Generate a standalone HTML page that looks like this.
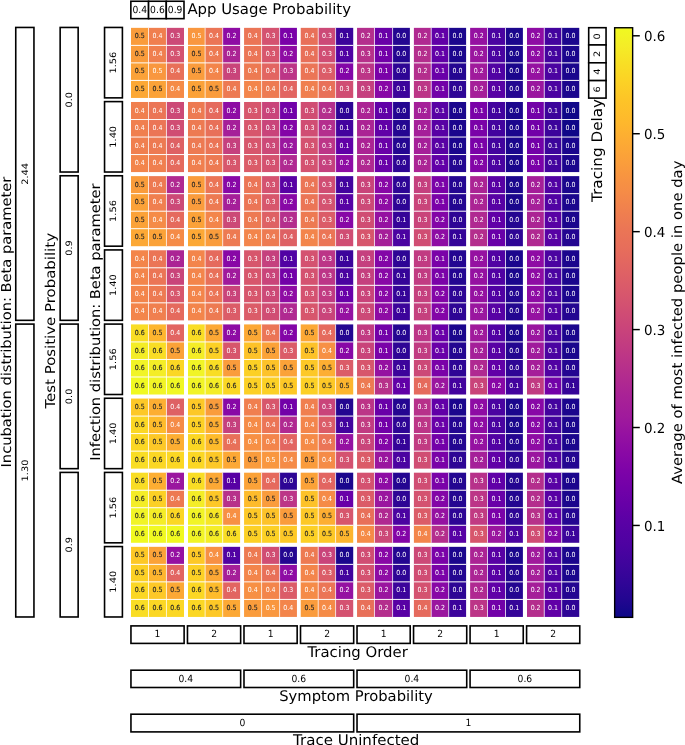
<!DOCTYPE html>
<html lang="en">
<head>
<meta charset="utf-8">
<title>Heatmap: average of most infected people in one day</title>
<style>
html,body{margin:0;padding:0;background:#fff;}
body{width:685px;height:745px;overflow:hidden;font-family:"DejaVu Sans","Liberation Sans",sans-serif;}
svg{display:block;}
svg text{font-family:"DejaVu Sans","Liberation Sans",sans-serif;fill:#000;text-rendering:geometricPrecision;}
.a{font-size:6.94px;text-anchor:middle;fill:#fff;}
.a.k{fill:#262626;stroke:#262626;stroke-width:0.15px;}
.s{font-size:9.9px;text-anchor:middle;}
.vs{font-size:9.8px;text-anchor:middle;}
.b{font-size:14.6px;text-anchor:middle;}
.vb{font-size:14.5px;text-anchor:middle;}
.t{font-size:13.89px;}
.bx{fill:#fff;stroke:#000;stroke-width:1.6;}
</style>
</head>
<body>
<svg width="685" height="745" viewBox="0 0 685 745">
<rect x="0" y="0" width="685" height="745" fill="#fff"/>
<g id="heatmap">
<g><rect x="131" y="27.85" width="17.5" height="17.52" fill="#fa9c3c"/><rect x="148.5" y="27.85" width="17.95" height="17.52" fill="#f07f4f"/><rect x="166.45" y="27.85" width="17.55" height="17.52" fill="#cc4977"/><rect x="188" y="27.85" width="17.1" height="17.52" fill="#f9973f"/><rect x="205.1" y="27.85" width="17.6" height="17.52" fill="#eb7556"/><rect x="222.7" y="27.85" width="17.4" height="17.52" fill="#8e0ca4"/><rect x="244.07" y="27.85" width="17.53" height="17.52" fill="#eb7556"/><rect x="261.6" y="27.85" width="18" height="17.52" fill="#d45270"/><rect x="279.6" y="27.85" width="17.33" height="17.52" fill="#7a02a8"/><rect x="300.74" y="27.85" width="17.46" height="17.52" fill="#e87059"/><rect x="318.2" y="27.85" width="17.4" height="17.52" fill="#cc4977"/><rect x="335.6" y="27.85" width="17.62" height="17.52" fill="#3c049b"/><rect x="357.05" y="27.85" width="17.42" height="17.52" fill="#b42e8d"/><rect x="374.47" y="27.85" width="18.13" height="17.52" fill="#6900a8"/><rect x="392.6" y="27.85" width="17.28" height="17.52" fill="#240691"/><rect x="413.9" y="27.85" width="17.3" height="17.52" fill="#b02991"/><rect x="431.2" y="27.85" width="17.5" height="17.52" fill="#6100a7"/><rect x="448.7" y="27.85" width="17.4" height="17.52" fill="#1b068d"/><rect x="470.13" y="27.85" width="17.37" height="17.52" fill="#9511a1"/><rect x="487.5" y="27.85" width="18" height="17.52" fill="#4b03a1"/><rect x="505.5" y="27.85" width="17.4" height="17.52" fill="#1b068d"/><rect x="527" y="27.85" width="17.25" height="17.52" fill="#8e0ca4"/><rect x="544.25" y="27.85" width="17.45" height="17.52" fill="#43039e"/><rect x="561.7" y="27.85" width="17.55" height="17.52" fill="#1b068d"/></g>
<g><rect x="131" y="45.38" width="17.5" height="17.52" fill="#fa9c3c"/><rect x="148.5" y="45.38" width="17.95" height="17.52" fill="#f07f4f"/><rect x="166.45" y="45.38" width="17.55" height="17.52" fill="#d45270"/><rect x="188" y="45.38" width="17.1" height="17.52" fill="#fa9c3c"/><rect x="205.1" y="45.38" width="17.6" height="17.52" fill="#ed7a52"/><rect x="222.7" y="45.38" width="17.4" height="17.52" fill="#ab2494"/><rect x="244.07" y="45.38" width="17.53" height="17.52" fill="#eb7556"/><rect x="261.6" y="45.38" width="18" height="17.52" fill="#d7566c"/><rect x="279.6" y="45.38" width="17.33" height="17.52" fill="#8e0ca4"/><rect x="300.74" y="45.38" width="17.46" height="17.52" fill="#e87059"/><rect x="318.2" y="45.38" width="17.4" height="17.52" fill="#d04d73"/><rect x="335.6" y="45.38" width="17.62" height="17.52" fill="#5102a3"/><rect x="357.05" y="45.38" width="17.42" height="17.52" fill="#b7318a"/><rect x="374.47" y="45.38" width="18.13" height="17.52" fill="#7201a8"/><rect x="392.6" y="45.38" width="17.28" height="17.52" fill="#240691"/><rect x="413.9" y="45.38" width="17.3" height="17.52" fill="#b42e8d"/><rect x="431.2" y="45.38" width="17.5" height="17.52" fill="#6100a7"/><rect x="448.7" y="45.38" width="17.4" height="17.52" fill="#1b068d"/><rect x="470.13" y="45.38" width="17.37" height="17.52" fill="#9a169f"/><rect x="487.5" y="45.38" width="18" height="17.52" fill="#4b03a1"/><rect x="505.5" y="45.38" width="17.4" height="17.52" fill="#1b068d"/><rect x="527" y="45.38" width="17.25" height="17.52" fill="#8e0ca4"/><rect x="544.25" y="45.38" width="17.45" height="17.52" fill="#43039e"/><rect x="561.7" y="45.38" width="17.55" height="17.52" fill="#1b068d"/></g>
<g><rect x="131" y="62.9" width="17.5" height="17.52" fill="#fba238"/><rect x="148.5" y="62.9" width="17.95" height="17.52" fill="#f9973f"/><rect x="166.45" y="62.9" width="17.55" height="17.52" fill="#e87059"/><rect x="188" y="62.9" width="17.1" height="17.52" fill="#fa9c3c"/><rect x="205.1" y="62.9" width="17.6" height="17.52" fill="#f3854b"/><rect x="222.7" y="62.9" width="17.4" height="17.52" fill="#c9447a"/><rect x="244.07" y="62.9" width="17.53" height="17.52" fill="#ed7a52"/><rect x="261.6" y="62.9" width="18" height="17.52" fill="#e26561"/><rect x="279.6" y="62.9" width="17.33" height="17.52" fill="#bc3587"/><rect x="300.74" y="62.9" width="17.46" height="17.52" fill="#eb7556"/><rect x="318.2" y="62.9" width="17.4" height="17.52" fill="#db5c68"/><rect x="335.6" y="62.9" width="17.62" height="17.52" fill="#8305a7"/><rect x="357.05" y="62.9" width="17.42" height="17.52" fill="#bc3587"/><rect x="374.47" y="62.9" width="18.13" height="17.52" fill="#7a02a8"/><rect x="392.6" y="62.9" width="17.28" height="17.52" fill="#2e0595"/><rect x="413.9" y="62.9" width="17.3" height="17.52" fill="#b42e8d"/><rect x="431.2" y="62.9" width="17.5" height="17.52" fill="#6900a8"/><rect x="448.7" y="62.9" width="17.4" height="17.52" fill="#240691"/><rect x="470.13" y="62.9" width="17.37" height="17.52" fill="#a01a9c"/><rect x="487.5" y="62.9" width="18" height="17.52" fill="#5102a3"/><rect x="505.5" y="62.9" width="17.4" height="17.52" fill="#1b068d"/><rect x="527" y="62.9" width="17.25" height="17.52" fill="#9511a1"/><rect x="544.25" y="62.9" width="17.45" height="17.52" fill="#4b03a1"/><rect x="561.7" y="62.9" width="17.55" height="17.52" fill="#1b068d"/></g>
<g><rect x="131" y="80.42" width="17.5" height="17.52" fill="#fca835"/><rect x="148.5" y="80.42" width="17.95" height="17.52" fill="#fba238"/><rect x="166.45" y="80.42" width="17.55" height="17.52" fill="#f58b47"/><rect x="188" y="80.42" width="17.1" height="17.52" fill="#fba238"/><rect x="205.1" y="80.42" width="17.6" height="17.52" fill="#fa9c3c"/><rect x="222.7" y="80.42" width="17.4" height="17.52" fill="#ed7a52"/><rect x="244.07" y="80.42" width="17.53" height="17.52" fill="#f3854b"/><rect x="261.6" y="80.42" width="18" height="17.52" fill="#ed7a52"/><rect x="279.6" y="80.42" width="17.33" height="17.52" fill="#e26561"/><rect x="300.74" y="80.42" width="17.46" height="17.52" fill="#f07f4f"/><rect x="318.2" y="80.42" width="17.4" height="17.52" fill="#e87059"/><rect x="335.6" y="80.42" width="17.62" height="17.52" fill="#d04d73"/><rect x="357.05" y="80.42" width="17.42" height="17.52" fill="#c5407e"/><rect x="374.47" y="80.42" width="18.13" height="17.52" fill="#8808a6"/><rect x="392.6" y="80.42" width="17.28" height="17.52" fill="#3c049b"/><rect x="413.9" y="80.42" width="17.3" height="17.52" fill="#bc3587"/><rect x="431.2" y="80.42" width="17.5" height="17.52" fill="#7201a8"/><rect x="448.7" y="80.42" width="17.4" height="17.52" fill="#2e0595"/><rect x="470.13" y="80.42" width="17.37" height="17.52" fill="#a51f99"/><rect x="487.5" y="80.42" width="18" height="17.52" fill="#5801a4"/><rect x="505.5" y="80.42" width="17.4" height="17.52" fill="#240691"/><rect x="527" y="80.42" width="17.25" height="17.52" fill="#9a169f"/><rect x="544.25" y="80.42" width="17.45" height="17.52" fill="#4b03a1"/><rect x="561.7" y="80.42" width="17.55" height="17.52" fill="#1b068d"/></g>
<g><rect x="131" y="101.99" width="17.5" height="17.52" fill="#f07f4f"/><rect x="148.5" y="101.99" width="17.95" height="17.52" fill="#eb7556"/><rect x="166.45" y="101.99" width="17.55" height="17.52" fill="#cc4977"/><rect x="188" y="101.99" width="17.1" height="17.52" fill="#ed7a52"/><rect x="205.1" y="101.99" width="17.6" height="17.52" fill="#e56a5d"/><rect x="222.7" y="101.99" width="17.4" height="17.52" fill="#8e0ca4"/><rect x="244.07" y="101.99" width="17.53" height="17.52" fill="#d7566c"/><rect x="261.6" y="101.99" width="18" height="17.52" fill="#c9447a"/><rect x="279.6" y="101.99" width="17.33" height="17.52" fill="#7201a8"/><rect x="300.74" y="101.99" width="17.46" height="17.52" fill="#d04d73"/><rect x="318.2" y="101.99" width="17.4" height="17.52" fill="#b42e8d"/><rect x="335.6" y="101.99" width="17.62" height="17.52" fill="#2e0595"/><rect x="357.05" y="101.99" width="17.42" height="17.52" fill="#ab2494"/><rect x="374.47" y="101.99" width="18.13" height="17.52" fill="#6100a7"/><rect x="392.6" y="101.99" width="17.28" height="17.52" fill="#240691"/><rect x="413.9" y="101.99" width="17.3" height="17.52" fill="#a51f99"/><rect x="431.2" y="101.99" width="17.5" height="17.52" fill="#5801a4"/><rect x="448.7" y="101.99" width="17.4" height="17.52" fill="#1b068d"/><rect x="470.13" y="101.99" width="17.37" height="17.52" fill="#7a02a8"/><rect x="487.5" y="101.99" width="18" height="17.52" fill="#43039e"/><rect x="505.5" y="101.99" width="17.4" height="17.52" fill="#1b068d"/><rect x="527" y="101.99" width="17.25" height="17.52" fill="#7201a8"/><rect x="544.25" y="101.99" width="17.45" height="17.52" fill="#3c049b"/><rect x="561.7" y="101.99" width="17.55" height="17.52" fill="#100788"/></g>
<g><rect x="131" y="119.52" width="17.5" height="17.52" fill="#f07f4f"/><rect x="148.5" y="119.52" width="17.95" height="17.52" fill="#eb7556"/><rect x="166.45" y="119.52" width="17.55" height="17.52" fill="#d04d73"/><rect x="188" y="119.52" width="17.1" height="17.52" fill="#ed7a52"/><rect x="205.1" y="119.52" width="17.6" height="17.52" fill="#e87059"/><rect x="222.7" y="119.52" width="17.4" height="17.52" fill="#a51f99"/><rect x="244.07" y="119.52" width="17.53" height="17.52" fill="#d7566c"/><rect x="261.6" y="119.52" width="18" height="17.52" fill="#c9447a"/><rect x="279.6" y="119.52" width="17.33" height="17.52" fill="#8305a7"/><rect x="300.74" y="119.52" width="17.46" height="17.52" fill="#d04d73"/><rect x="318.2" y="119.52" width="17.4" height="17.52" fill="#b42e8d"/><rect x="335.6" y="119.52" width="17.62" height="17.52" fill="#43039e"/><rect x="357.05" y="119.52" width="17.42" height="17.52" fill="#ab2494"/><rect x="374.47" y="119.52" width="18.13" height="17.52" fill="#6100a7"/><rect x="392.6" y="119.52" width="17.28" height="17.52" fill="#240691"/><rect x="413.9" y="119.52" width="17.3" height="17.52" fill="#a51f99"/><rect x="431.2" y="119.52" width="17.5" height="17.52" fill="#5801a4"/><rect x="448.7" y="119.52" width="17.4" height="17.52" fill="#1b068d"/><rect x="470.13" y="119.52" width="17.37" height="17.52" fill="#7a02a8"/><rect x="487.5" y="119.52" width="18" height="17.52" fill="#43039e"/><rect x="505.5" y="119.52" width="17.4" height="17.52" fill="#1b068d"/><rect x="527" y="119.52" width="17.25" height="17.52" fill="#7201a8"/><rect x="544.25" y="119.52" width="17.45" height="17.52" fill="#3c049b"/><rect x="561.7" y="119.52" width="17.55" height="17.52" fill="#100788"/></g>
<g><rect x="131" y="137.04" width="17.5" height="17.52" fill="#f07f4f"/><rect x="148.5" y="137.04" width="17.95" height="17.52" fill="#ed7a52"/><rect x="166.45" y="137.04" width="17.55" height="17.52" fill="#de6164"/><rect x="188" y="137.04" width="17.1" height="17.52" fill="#ed7a52"/><rect x="205.1" y="137.04" width="17.6" height="17.52" fill="#eb7556"/><rect x="222.7" y="137.04" width="17.4" height="17.52" fill="#c5407e"/><rect x="244.07" y="137.04" width="17.53" height="17.52" fill="#d7566c"/><rect x="261.6" y="137.04" width="18" height="17.52" fill="#cc4977"/><rect x="279.6" y="137.04" width="17.33" height="17.52" fill="#9a169f"/><rect x="300.74" y="137.04" width="17.46" height="17.52" fill="#d45270"/><rect x="318.2" y="137.04" width="17.4" height="17.52" fill="#bc3587"/><rect x="335.6" y="137.04" width="17.62" height="17.52" fill="#6100a7"/><rect x="357.05" y="137.04" width="17.42" height="17.52" fill="#ab2494"/><rect x="374.47" y="137.04" width="18.13" height="17.52" fill="#6900a8"/><rect x="392.6" y="137.04" width="17.28" height="17.52" fill="#240691"/><rect x="413.9" y="137.04" width="17.3" height="17.52" fill="#a51f99"/><rect x="431.2" y="137.04" width="17.5" height="17.52" fill="#5801a4"/><rect x="448.7" y="137.04" width="17.4" height="17.52" fill="#1b068d"/><rect x="470.13" y="137.04" width="17.37" height="17.52" fill="#7a02a8"/><rect x="487.5" y="137.04" width="18" height="17.52" fill="#43039e"/><rect x="505.5" y="137.04" width="17.4" height="17.52" fill="#1b068d"/><rect x="527" y="137.04" width="17.25" height="17.52" fill="#7201a8"/><rect x="544.25" y="137.04" width="17.45" height="17.52" fill="#3c049b"/><rect x="561.7" y="137.04" width="17.55" height="17.52" fill="#1b068d"/></g>
<g><rect x="131" y="154.56" width="17.5" height="17.52" fill="#f3854b"/><rect x="148.5" y="154.56" width="17.95" height="17.52" fill="#f07f4f"/><rect x="166.45" y="154.56" width="17.55" height="17.52" fill="#e56a5d"/><rect x="188" y="154.56" width="17.1" height="17.52" fill="#f07f4f"/><rect x="205.1" y="154.56" width="17.6" height="17.52" fill="#ed7a52"/><rect x="222.7" y="154.56" width="17.4" height="17.52" fill="#d7566c"/><rect x="244.07" y="154.56" width="17.53" height="17.52" fill="#db5c68"/><rect x="261.6" y="154.56" width="18" height="17.52" fill="#d45270"/><rect x="279.6" y="154.56" width="17.33" height="17.52" fill="#b02991"/><rect x="300.74" y="154.56" width="17.46" height="17.52" fill="#d45270"/><rect x="318.2" y="154.56" width="17.4" height="17.52" fill="#c5407e"/><rect x="335.6" y="154.56" width="17.62" height="17.52" fill="#8e0ca4"/><rect x="357.05" y="154.56" width="17.42" height="17.52" fill="#b02991"/><rect x="374.47" y="154.56" width="18.13" height="17.52" fill="#6900a8"/><rect x="392.6" y="154.56" width="17.28" height="17.52" fill="#2e0595"/><rect x="413.9" y="154.56" width="17.3" height="17.52" fill="#ab2494"/><rect x="431.2" y="154.56" width="17.5" height="17.52" fill="#6100a7"/><rect x="448.7" y="154.56" width="17.4" height="17.52" fill="#240691"/><rect x="470.13" y="154.56" width="17.37" height="17.52" fill="#8305a7"/><rect x="487.5" y="154.56" width="18" height="17.52" fill="#4b03a1"/><rect x="505.5" y="154.56" width="17.4" height="17.52" fill="#1b068d"/><rect x="527" y="154.56" width="17.25" height="17.52" fill="#7a02a8"/><rect x="544.25" y="154.56" width="17.45" height="17.52" fill="#43039e"/><rect x="561.7" y="154.56" width="17.55" height="17.52" fill="#1b068d"/></g>
<g><rect x="131" y="176.13" width="17.5" height="17.52" fill="#fa9c3c"/><rect x="148.5" y="176.13" width="17.95" height="17.52" fill="#ed7a52"/><rect x="166.45" y="176.13" width="17.55" height="17.52" fill="#b02991"/><rect x="188" y="176.13" width="17.1" height="17.52" fill="#fa9c3c"/><rect x="205.1" y="176.13" width="17.6" height="17.52" fill="#eb7556"/><rect x="222.7" y="176.13" width="17.4" height="17.52" fill="#8808a6"/><rect x="244.07" y="176.13" width="17.53" height="17.52" fill="#eb7556"/><rect x="261.6" y="176.13" width="18" height="17.52" fill="#d45270"/><rect x="279.6" y="176.13" width="17.33" height="17.52" fill="#5801a4"/><rect x="300.74" y="176.13" width="17.46" height="17.52" fill="#eb7556"/><rect x="318.2" y="176.13" width="17.4" height="17.52" fill="#d04d73"/><rect x="335.6" y="176.13" width="17.62" height="17.52" fill="#43039e"/><rect x="357.05" y="176.13" width="17.42" height="17.52" fill="#c9447a"/><rect x="374.47" y="176.13" width="18.13" height="17.52" fill="#8808a6"/><rect x="392.6" y="176.13" width="17.28" height="17.52" fill="#2e0595"/><rect x="413.9" y="176.13" width="17.3" height="17.52" fill="#c5407e"/><rect x="431.2" y="176.13" width="17.5" height="17.52" fill="#7a02a8"/><rect x="448.7" y="176.13" width="17.4" height="17.52" fill="#240691"/><rect x="470.13" y="176.13" width="17.37" height="17.52" fill="#ab2494"/><rect x="487.5" y="176.13" width="18" height="17.52" fill="#5801a4"/><rect x="505.5" y="176.13" width="17.4" height="17.52" fill="#1b068d"/><rect x="527" y="176.13" width="17.25" height="17.52" fill="#a51f99"/><rect x="544.25" y="176.13" width="17.45" height="17.52" fill="#5102a3"/><rect x="561.7" y="176.13" width="17.55" height="17.52" fill="#1b068d"/></g>
<g><rect x="131" y="193.66" width="17.5" height="17.52" fill="#fba238"/><rect x="148.5" y="193.66" width="17.95" height="17.52" fill="#f07f4f"/><rect x="166.45" y="193.66" width="17.55" height="17.52" fill="#cc4977"/><rect x="188" y="193.66" width="17.1" height="17.52" fill="#fa9c3c"/><rect x="205.1" y="193.66" width="17.6" height="17.52" fill="#ed7a52"/><rect x="222.7" y="193.66" width="17.4" height="17.52" fill="#a51f99"/><rect x="244.07" y="193.66" width="17.53" height="17.52" fill="#eb7556"/><rect x="261.6" y="193.66" width="18" height="17.52" fill="#d7566c"/><rect x="279.6" y="193.66" width="17.33" height="17.52" fill="#8808a6"/><rect x="300.74" y="193.66" width="17.46" height="17.52" fill="#eb7556"/><rect x="318.2" y="193.66" width="17.4" height="17.52" fill="#d45270"/><rect x="335.6" y="193.66" width="17.62" height="17.52" fill="#5801a4"/><rect x="357.05" y="193.66" width="17.42" height="17.52" fill="#cc4977"/><rect x="374.47" y="193.66" width="18.13" height="17.52" fill="#8e0ca4"/><rect x="392.6" y="193.66" width="17.28" height="17.52" fill="#2e0595"/><rect x="413.9" y="193.66" width="17.3" height="17.52" fill="#c9447a"/><rect x="431.2" y="193.66" width="17.5" height="17.52" fill="#7a02a8"/><rect x="448.7" y="193.66" width="17.4" height="17.52" fill="#240691"/><rect x="470.13" y="193.66" width="17.37" height="17.52" fill="#ab2494"/><rect x="487.5" y="193.66" width="18" height="17.52" fill="#5801a4"/><rect x="505.5" y="193.66" width="17.4" height="17.52" fill="#1b068d"/><rect x="527" y="193.66" width="17.25" height="17.52" fill="#a51f99"/><rect x="544.25" y="193.66" width="17.45" height="17.52" fill="#5102a3"/><rect x="561.7" y="193.66" width="17.55" height="17.52" fill="#1b068d"/></g>
<g><rect x="131" y="211.18" width="17.5" height="17.52" fill="#fba238"/><rect x="148.5" y="211.18" width="17.95" height="17.52" fill="#f58b47"/><rect x="166.45" y="211.18" width="17.55" height="17.52" fill="#e56a5d"/><rect x="188" y="211.18" width="17.1" height="17.52" fill="#fba238"/><rect x="205.1" y="211.18" width="17.6" height="17.52" fill="#f3854b"/><rect x="222.7" y="211.18" width="17.4" height="17.52" fill="#cc4977"/><rect x="244.07" y="211.18" width="17.53" height="17.52" fill="#ed7a52"/><rect x="261.6" y="211.18" width="18" height="17.52" fill="#de6164"/><rect x="279.6" y="211.18" width="17.33" height="17.52" fill="#b42e8d"/><rect x="300.74" y="211.18" width="17.46" height="17.52" fill="#ed7a52"/><rect x="318.2" y="211.18" width="17.4" height="17.52" fill="#db5c68"/><rect x="335.6" y="211.18" width="17.62" height="17.52" fill="#8808a6"/><rect x="357.05" y="211.18" width="17.42" height="17.52" fill="#d04d73"/><rect x="374.47" y="211.18" width="18.13" height="17.52" fill="#9511a1"/><rect x="392.6" y="211.18" width="17.28" height="17.52" fill="#350498"/><rect x="413.9" y="211.18" width="17.3" height="17.52" fill="#c9447a"/><rect x="431.2" y="211.18" width="17.5" height="17.52" fill="#8305a7"/><rect x="448.7" y="211.18" width="17.4" height="17.52" fill="#2e0595"/><rect x="470.13" y="211.18" width="17.37" height="17.52" fill="#b02991"/><rect x="487.5" y="211.18" width="18" height="17.52" fill="#6100a7"/><rect x="505.5" y="211.18" width="17.4" height="17.52" fill="#240691"/><rect x="527" y="211.18" width="17.25" height="17.52" fill="#ab2494"/><rect x="544.25" y="211.18" width="17.45" height="17.52" fill="#5801a4"/><rect x="561.7" y="211.18" width="17.55" height="17.52" fill="#1b068d"/></g>
<g><rect x="131" y="228.7" width="17.5" height="17.52" fill="#fca835"/><rect x="148.5" y="228.7" width="17.95" height="17.52" fill="#fba238"/><rect x="166.45" y="228.7" width="17.55" height="17.52" fill="#f58b47"/><rect x="188" y="228.7" width="17.1" height="17.52" fill="#fca835"/><rect x="205.1" y="228.7" width="17.6" height="17.52" fill="#fa9c3c"/><rect x="222.7" y="228.7" width="17.4" height="17.52" fill="#ed7a52"/><rect x="244.07" y="228.7" width="17.53" height="17.52" fill="#f3854b"/><rect x="261.6" y="228.7" width="18" height="17.52" fill="#ed7a52"/><rect x="279.6" y="228.7" width="17.33" height="17.52" fill="#de6164"/><rect x="300.74" y="228.7" width="17.46" height="17.52" fill="#f3854b"/><rect x="318.2" y="228.7" width="17.4" height="17.52" fill="#eb7556"/><rect x="335.6" y="228.7" width="17.62" height="17.52" fill="#d04d73"/><rect x="357.05" y="228.7" width="17.42" height="17.52" fill="#d7566c"/><rect x="374.47" y="228.7" width="18.13" height="17.52" fill="#a51f99"/><rect x="392.6" y="228.7" width="17.28" height="17.52" fill="#4b03a1"/><rect x="413.9" y="228.7" width="17.3" height="17.52" fill="#d04d73"/><rect x="431.2" y="228.7" width="17.5" height="17.52" fill="#8e0ca4"/><rect x="448.7" y="228.7" width="17.4" height="17.52" fill="#350498"/><rect x="470.13" y="228.7" width="17.37" height="17.52" fill="#b42e8d"/><rect x="487.5" y="228.7" width="18" height="17.52" fill="#6900a8"/><rect x="505.5" y="228.7" width="17.4" height="17.52" fill="#2e0595"/><rect x="527" y="228.7" width="17.25" height="17.52" fill="#b02991"/><rect x="544.25" y="228.7" width="17.45" height="17.52" fill="#5801a4"/><rect x="561.7" y="228.7" width="17.55" height="17.52" fill="#240691"/></g>
<g><rect x="131" y="250.27" width="17.5" height="17.52" fill="#f3854b"/><rect x="148.5" y="250.27" width="17.95" height="17.52" fill="#eb7556"/><rect x="166.45" y="250.27" width="17.55" height="17.52" fill="#ab2494"/><rect x="188" y="250.27" width="17.1" height="17.52" fill="#f3854b"/><rect x="205.1" y="250.27" width="17.6" height="17.52" fill="#e56a5d"/><rect x="222.7" y="250.27" width="17.4" height="17.52" fill="#8808a6"/><rect x="244.07" y="250.27" width="17.53" height="17.52" fill="#d7566c"/><rect x="261.6" y="250.27" width="18" height="17.52" fill="#c5407e"/><rect x="279.6" y="250.27" width="17.33" height="17.52" fill="#5102a3"/><rect x="300.74" y="250.27" width="17.46" height="17.52" fill="#d45270"/><rect x="318.2" y="250.27" width="17.4" height="17.52" fill="#bc3587"/><rect x="335.6" y="250.27" width="17.62" height="17.52" fill="#3c049b"/><rect x="357.05" y="250.27" width="17.42" height="17.52" fill="#c5407e"/><rect x="374.47" y="250.27" width="18.13" height="17.52" fill="#8305a7"/><rect x="392.6" y="250.27" width="17.28" height="17.52" fill="#2e0595"/><rect x="413.9" y="250.27" width="17.3" height="17.52" fill="#c13b82"/><rect x="431.2" y="250.27" width="17.5" height="17.52" fill="#7a02a8"/><rect x="448.7" y="250.27" width="17.4" height="17.52" fill="#240691"/><rect x="470.13" y="250.27" width="17.37" height="17.52" fill="#9511a1"/><rect x="487.5" y="250.27" width="18" height="17.52" fill="#5102a3"/><rect x="505.5" y="250.27" width="17.4" height="17.52" fill="#1b068d"/><rect x="527" y="250.27" width="17.25" height="17.52" fill="#8e0ca4"/><rect x="544.25" y="250.27" width="17.45" height="17.52" fill="#4b03a1"/><rect x="561.7" y="250.27" width="17.55" height="17.52" fill="#1b068d"/></g>
<g><rect x="131" y="267.8" width="17.5" height="17.52" fill="#f3854b"/><rect x="148.5" y="267.8" width="17.95" height="17.52" fill="#eb7556"/><rect x="166.45" y="267.8" width="17.55" height="17.52" fill="#c9447a"/><rect x="188" y="267.8" width="17.1" height="17.52" fill="#f3854b"/><rect x="205.1" y="267.8" width="17.6" height="17.52" fill="#e87059"/><rect x="222.7" y="267.8" width="17.4" height="17.52" fill="#a01a9c"/><rect x="244.07" y="267.8" width="17.53" height="17.52" fill="#d7566c"/><rect x="261.6" y="267.8" width="18" height="17.52" fill="#c9447a"/><rect x="279.6" y="267.8" width="17.33" height="17.52" fill="#7201a8"/><rect x="300.74" y="267.8" width="17.46" height="17.52" fill="#d45270"/><rect x="318.2" y="267.8" width="17.4" height="17.52" fill="#bc3587"/><rect x="335.6" y="267.8" width="17.62" height="17.52" fill="#4b03a1"/><rect x="357.05" y="267.8" width="17.42" height="17.52" fill="#c5407e"/><rect x="374.47" y="267.8" width="18.13" height="17.52" fill="#8808a6"/><rect x="392.6" y="267.8" width="17.28" height="17.52" fill="#350498"/><rect x="413.9" y="267.8" width="17.3" height="17.52" fill="#c13b82"/><rect x="431.2" y="267.8" width="17.5" height="17.52" fill="#7a02a8"/><rect x="448.7" y="267.8" width="17.4" height="17.52" fill="#240691"/><rect x="470.13" y="267.8" width="17.37" height="17.52" fill="#9511a1"/><rect x="487.5" y="267.8" width="18" height="17.52" fill="#5102a3"/><rect x="505.5" y="267.8" width="17.4" height="17.52" fill="#1b068d"/><rect x="527" y="267.8" width="17.25" height="17.52" fill="#8e0ca4"/><rect x="544.25" y="267.8" width="17.45" height="17.52" fill="#4b03a1"/><rect x="561.7" y="267.8" width="17.55" height="17.52" fill="#1b068d"/></g>
<g><rect x="131" y="285.32" width="17.5" height="17.52" fill="#f3854b"/><rect x="148.5" y="285.32" width="17.95" height="17.52" fill="#ed7a52"/><rect x="166.45" y="285.32" width="17.55" height="17.52" fill="#d7566c"/><rect x="188" y="285.32" width="17.1" height="17.52" fill="#f3854b"/><rect x="205.1" y="285.32" width="17.6" height="17.52" fill="#eb7556"/><rect x="222.7" y="285.32" width="17.4" height="17.52" fill="#c9447a"/><rect x="244.07" y="285.32" width="17.53" height="17.52" fill="#d7566c"/><rect x="261.6" y="285.32" width="18" height="17.52" fill="#cc4977"/><rect x="279.6" y="285.32" width="17.33" height="17.52" fill="#8e0ca4"/><rect x="300.74" y="285.32" width="17.46" height="17.52" fill="#d45270"/><rect x="318.2" y="285.32" width="17.4" height="17.52" fill="#c13b82"/><rect x="335.6" y="285.32" width="17.62" height="17.52" fill="#6900a8"/><rect x="357.05" y="285.32" width="17.42" height="17.52" fill="#c9447a"/><rect x="374.47" y="285.32" width="18.13" height="17.52" fill="#8808a6"/><rect x="392.6" y="285.32" width="17.28" height="17.52" fill="#350498"/><rect x="413.9" y="285.32" width="17.3" height="17.52" fill="#c5407e"/><rect x="431.2" y="285.32" width="17.5" height="17.52" fill="#8305a7"/><rect x="448.7" y="285.32" width="17.4" height="17.52" fill="#2e0595"/><rect x="470.13" y="285.32" width="17.37" height="17.52" fill="#9511a1"/><rect x="487.5" y="285.32" width="18" height="17.52" fill="#5102a3"/><rect x="505.5" y="285.32" width="17.4" height="17.52" fill="#240691"/><rect x="527" y="285.32" width="17.25" height="17.52" fill="#8e0ca4"/><rect x="544.25" y="285.32" width="17.45" height="17.52" fill="#4b03a1"/><rect x="561.7" y="285.32" width="17.55" height="17.52" fill="#1b068d"/></g>
<g><rect x="131" y="302.85" width="17.5" height="17.52" fill="#f3854b"/><rect x="148.5" y="302.85" width="17.95" height="17.52" fill="#f07f4f"/><rect x="166.45" y="302.85" width="17.55" height="17.52" fill="#e56a5d"/><rect x="188" y="302.85" width="17.1" height="17.52" fill="#f3854b"/><rect x="205.1" y="302.85" width="17.6" height="17.52" fill="#ed7a52"/><rect x="222.7" y="302.85" width="17.4" height="17.52" fill="#db5c68"/><rect x="244.07" y="302.85" width="17.53" height="17.52" fill="#db5c68"/><rect x="261.6" y="302.85" width="18" height="17.52" fill="#d04d73"/><rect x="279.6" y="302.85" width="17.33" height="17.52" fill="#b02991"/><rect x="300.74" y="302.85" width="17.46" height="17.52" fill="#d7566c"/><rect x="318.2" y="302.85" width="17.4" height="17.52" fill="#c9447a"/><rect x="335.6" y="302.85" width="17.62" height="17.52" fill="#9511a1"/><rect x="357.05" y="302.85" width="17.42" height="17.52" fill="#cc4977"/><rect x="374.47" y="302.85" width="18.13" height="17.52" fill="#8e0ca4"/><rect x="392.6" y="302.85" width="17.28" height="17.52" fill="#3c049b"/><rect x="413.9" y="302.85" width="17.3" height="17.52" fill="#c5407e"/><rect x="431.2" y="302.85" width="17.5" height="17.52" fill="#8305a7"/><rect x="448.7" y="302.85" width="17.4" height="17.52" fill="#2e0595"/><rect x="470.13" y="302.85" width="17.37" height="17.52" fill="#9a169f"/><rect x="487.5" y="302.85" width="18" height="17.52" fill="#5801a4"/><rect x="505.5" y="302.85" width="17.4" height="17.52" fill="#240691"/><rect x="527" y="302.85" width="17.25" height="17.52" fill="#9511a1"/><rect x="544.25" y="302.85" width="17.45" height="17.52" fill="#5102a3"/><rect x="561.7" y="302.85" width="17.55" height="17.52" fill="#240691"/></g>
<g><rect x="131" y="324.41" width="17.5" height="17.52" fill="#f9dd25"/><rect x="148.5" y="324.41" width="17.95" height="17.52" fill="#fdb52e"/><rect x="166.45" y="324.41" width="17.55" height="17.52" fill="#e26561"/><rect x="188" y="324.41" width="17.1" height="17.52" fill="#f9dd25"/><rect x="205.1" y="324.41" width="17.6" height="17.52" fill="#fca835"/><rect x="222.7" y="324.41" width="17.4" height="17.52" fill="#8e0ca4"/><rect x="244.07" y="324.41" width="17.53" height="17.52" fill="#fca835"/><rect x="261.6" y="324.41" width="18" height="17.52" fill="#eb7556"/><rect x="279.6" y="324.41" width="17.33" height="17.52" fill="#8305a7"/><rect x="300.74" y="324.41" width="17.46" height="17.52" fill="#fca835"/><rect x="318.2" y="324.41" width="17.4" height="17.52" fill="#e56a5d"/><rect x="335.6" y="324.41" width="17.62" height="17.52" fill="#240691"/><rect x="357.05" y="324.41" width="17.42" height="17.52" fill="#c13b82"/><rect x="374.47" y="324.41" width="18.13" height="17.52" fill="#7201a8"/><rect x="392.6" y="324.41" width="17.28" height="17.52" fill="#240691"/><rect x="413.9" y="324.41" width="17.3" height="17.52" fill="#bc3587"/><rect x="431.2" y="324.41" width="17.5" height="17.52" fill="#6900a8"/><rect x="448.7" y="324.41" width="17.4" height="17.52" fill="#1b068d"/><rect x="470.13" y="324.41" width="17.37" height="17.52" fill="#a01a9c"/><rect x="487.5" y="324.41" width="18" height="17.52" fill="#5102a3"/><rect x="505.5" y="324.41" width="17.4" height="17.52" fill="#1b068d"/><rect x="527" y="324.41" width="17.25" height="17.52" fill="#9a169f"/><rect x="544.25" y="324.41" width="17.45" height="17.52" fill="#4b03a1"/><rect x="561.7" y="324.41" width="17.55" height="17.52" fill="#1b068d"/></g>
<g><rect x="131" y="341.94" width="17.5" height="17.52" fill="#f4ed27"/><rect x="148.5" y="341.94" width="17.95" height="17.52" fill="#f9dd25"/><rect x="166.45" y="341.94" width="17.55" height="17.52" fill="#fba238"/><rect x="188" y="341.94" width="17.1" height="17.52" fill="#f4ed27"/><rect x="205.1" y="341.94" width="17.6" height="17.52" fill="#fcd025"/><rect x="222.7" y="341.94" width="17.4" height="17.52" fill="#d7566c"/><rect x="244.07" y="341.94" width="17.53" height="17.52" fill="#fdc229"/><rect x="261.6" y="341.94" width="18" height="17.52" fill="#fba238"/><rect x="279.6" y="341.94" width="17.33" height="17.52" fill="#db5c68"/><rect x="300.74" y="341.94" width="17.46" height="17.52" fill="#fdc229"/><rect x="318.2" y="341.94" width="17.4" height="17.52" fill="#f79044"/><rect x="335.6" y="341.94" width="17.62" height="17.52" fill="#8808a6"/><rect x="357.05" y="341.94" width="17.42" height="17.52" fill="#c9447a"/><rect x="374.47" y="341.94" width="18.13" height="17.52" fill="#7a02a8"/><rect x="392.6" y="341.94" width="17.28" height="17.52" fill="#2e0595"/><rect x="413.9" y="341.94" width="17.3" height="17.52" fill="#c13b82"/><rect x="431.2" y="341.94" width="17.5" height="17.52" fill="#6900a8"/><rect x="448.7" y="341.94" width="17.4" height="17.52" fill="#240691"/><rect x="470.13" y="341.94" width="17.37" height="17.52" fill="#a51f99"/><rect x="487.5" y="341.94" width="18" height="17.52" fill="#5801a4"/><rect x="505.5" y="341.94" width="17.4" height="17.52" fill="#240691"/><rect x="527" y="341.94" width="17.25" height="17.52" fill="#a01a9c"/><rect x="544.25" y="341.94" width="17.45" height="17.52" fill="#4b03a1"/><rect x="561.7" y="341.94" width="17.55" height="17.52" fill="#1b068d"/></g>
<g><rect x="131" y="359.46" width="17.5" height="17.52" fill="#f1f426"/><rect x="148.5" y="359.46" width="17.95" height="17.52" fill="#f4ed27"/><rect x="166.45" y="359.46" width="17.55" height="17.52" fill="#fbd724"/><rect x="188" y="359.46" width="17.1" height="17.52" fill="#f1f426"/><rect x="205.1" y="359.46" width="17.6" height="17.52" fill="#f9dd25"/><rect x="222.7" y="359.46" width="17.4" height="17.52" fill="#fa9c3c"/><rect x="244.07" y="359.46" width="17.53" height="17.52" fill="#fcd025"/><rect x="261.6" y="359.46" width="18" height="17.52" fill="#fdc229"/><rect x="279.6" y="359.46" width="17.33" height="17.52" fill="#fba238"/><rect x="300.74" y="359.46" width="17.46" height="17.52" fill="#fdc827"/><rect x="318.2" y="359.46" width="17.4" height="17.52" fill="#fdae32"/><rect x="335.6" y="359.46" width="17.62" height="17.52" fill="#db5c68"/><rect x="357.05" y="359.46" width="17.42" height="17.52" fill="#d7566c"/><rect x="374.47" y="359.46" width="18.13" height="17.52" fill="#9511a1"/><rect x="392.6" y="359.46" width="17.28" height="17.52" fill="#3c049b"/><rect x="413.9" y="359.46" width="17.3" height="17.52" fill="#cc4977"/><rect x="431.2" y="359.46" width="17.5" height="17.52" fill="#7a02a8"/><rect x="448.7" y="359.46" width="17.4" height="17.52" fill="#2e0595"/><rect x="470.13" y="359.46" width="17.37" height="17.52" fill="#b02991"/><rect x="487.5" y="359.46" width="18" height="17.52" fill="#6100a7"/><rect x="505.5" y="359.46" width="17.4" height="17.52" fill="#2e0595"/><rect x="527" y="359.46" width="17.25" height="17.52" fill="#a51f99"/><rect x="544.25" y="359.46" width="17.45" height="17.52" fill="#5102a3"/><rect x="561.7" y="359.46" width="17.55" height="17.52" fill="#240691"/></g>
<g><rect x="131" y="376.99" width="17.5" height="17.52" fill="#f0f921"/><rect x="148.5" y="376.99" width="17.95" height="17.52" fill="#f1f426"/><rect x="166.45" y="376.99" width="17.55" height="17.52" fill="#f0f724"/><rect x="188" y="376.99" width="17.1" height="17.52" fill="#f1f426"/><rect x="205.1" y="376.99" width="17.6" height="17.52" fill="#f4ed27"/><rect x="222.7" y="376.99" width="17.4" height="17.52" fill="#fbd724"/><rect x="244.07" y="376.99" width="17.53" height="17.52" fill="#fcd025"/><rect x="261.6" y="376.99" width="18" height="17.52" fill="#fcd025"/><rect x="279.6" y="376.99" width="17.33" height="17.52" fill="#fdc827"/><rect x="300.74" y="376.99" width="17.46" height="17.52" fill="#fcd025"/><rect x="318.2" y="376.99" width="17.4" height="17.52" fill="#fdc827"/><rect x="335.6" y="376.99" width="17.62" height="17.52" fill="#fdb52e"/><rect x="357.05" y="376.99" width="17.42" height="17.52" fill="#ed7a52"/><rect x="374.47" y="376.99" width="18.13" height="17.52" fill="#b7318a"/><rect x="392.6" y="376.99" width="17.28" height="17.52" fill="#6100a7"/><rect x="413.9" y="376.99" width="17.3" height="17.52" fill="#e56a5d"/><rect x="431.2" y="376.99" width="17.5" height="17.52" fill="#9a169f"/><rect x="448.7" y="376.99" width="17.4" height="17.52" fill="#43039e"/><rect x="470.13" y="376.99" width="17.37" height="17.52" fill="#c9447a"/><rect x="487.5" y="376.99" width="18" height="17.52" fill="#8808a6"/><rect x="505.5" y="376.99" width="17.4" height="17.52" fill="#43039e"/><rect x="527" y="376.99" width="17.25" height="17.52" fill="#c13b82"/><rect x="544.25" y="376.99" width="17.45" height="17.52" fill="#7201a8"/><rect x="561.7" y="376.99" width="17.55" height="17.52" fill="#350498"/></g>
<g><rect x="131" y="398.55" width="17.5" height="17.52" fill="#fdc827"/><rect x="148.5" y="398.55" width="17.95" height="17.52" fill="#fdae32"/><rect x="166.45" y="398.55" width="17.55" height="17.52" fill="#de6164"/><rect x="188" y="398.55" width="17.1" height="17.52" fill="#fdc827"/><rect x="205.1" y="398.55" width="17.6" height="17.52" fill="#fa9c3c"/><rect x="222.7" y="398.55" width="17.4" height="17.52" fill="#8808a6"/><rect x="244.07" y="398.55" width="17.53" height="17.52" fill="#f07f4f"/><rect x="261.6" y="398.55" width="18" height="17.52" fill="#d7566c"/><rect x="279.6" y="398.55" width="17.33" height="17.52" fill="#7201a8"/><rect x="300.74" y="398.55" width="17.46" height="17.52" fill="#f07f4f"/><rect x="318.2" y="398.55" width="17.4" height="17.52" fill="#c9447a"/><rect x="335.6" y="398.55" width="17.62" height="17.52" fill="#240691"/><rect x="357.05" y="398.55" width="17.42" height="17.52" fill="#bc3587"/><rect x="374.47" y="398.55" width="18.13" height="17.52" fill="#6900a8"/><rect x="392.6" y="398.55" width="17.28" height="17.52" fill="#240691"/><rect x="413.9" y="398.55" width="17.3" height="17.52" fill="#b7318a"/><rect x="431.2" y="398.55" width="17.5" height="17.52" fill="#6100a7"/><rect x="448.7" y="398.55" width="17.4" height="17.52" fill="#1b068d"/><rect x="470.13" y="398.55" width="17.37" height="17.52" fill="#8e0ca4"/><rect x="487.5" y="398.55" width="18" height="17.52" fill="#4b03a1"/><rect x="505.5" y="398.55" width="17.4" height="17.52" fill="#1b068d"/><rect x="527" y="398.55" width="17.25" height="17.52" fill="#8808a6"/><rect x="544.25" y="398.55" width="17.45" height="17.52" fill="#43039e"/><rect x="561.7" y="398.55" width="17.55" height="17.52" fill="#1b068d"/></g>
<g><rect x="131" y="416.07" width="17.5" height="17.52" fill="#fbd724"/><rect x="148.5" y="416.07" width="17.95" height="17.52" fill="#febb2b"/><rect x="166.45" y="416.07" width="17.55" height="17.52" fill="#f58b47"/><rect x="188" y="416.07" width="17.1" height="17.52" fill="#fcd025"/><rect x="205.1" y="416.07" width="17.6" height="17.52" fill="#fdae32"/><rect x="222.7" y="416.07" width="17.4" height="17.52" fill="#c5407e"/><rect x="244.07" y="416.07" width="17.53" height="17.52" fill="#f58b47"/><rect x="261.6" y="416.07" width="18" height="17.52" fill="#eb7556"/><rect x="279.6" y="416.07" width="17.33" height="17.52" fill="#b02991"/><rect x="300.74" y="416.07" width="17.46" height="17.52" fill="#f3854b"/><rect x="318.2" y="416.07" width="17.4" height="17.52" fill="#db5c68"/><rect x="335.6" y="416.07" width="17.62" height="17.52" fill="#43039e"/><rect x="357.05" y="416.07" width="17.42" height="17.52" fill="#c13b82"/><rect x="374.47" y="416.07" width="18.13" height="17.52" fill="#7201a8"/><rect x="392.6" y="416.07" width="17.28" height="17.52" fill="#2e0595"/><rect x="413.9" y="416.07" width="17.3" height="17.52" fill="#bc3587"/><rect x="431.2" y="416.07" width="17.5" height="17.52" fill="#6900a8"/><rect x="448.7" y="416.07" width="17.4" height="17.52" fill="#240691"/><rect x="470.13" y="416.07" width="17.37" height="17.52" fill="#8e0ca4"/><rect x="487.5" y="416.07" width="18" height="17.52" fill="#4b03a1"/><rect x="505.5" y="416.07" width="17.4" height="17.52" fill="#1b068d"/><rect x="527" y="416.07" width="17.25" height="17.52" fill="#8808a6"/><rect x="544.25" y="416.07" width="17.45" height="17.52" fill="#43039e"/><rect x="561.7" y="416.07" width="17.55" height="17.52" fill="#1b068d"/></g>
<g><rect x="131" y="433.6" width="17.5" height="17.52" fill="#fbd724"/><rect x="148.5" y="433.6" width="17.95" height="17.52" fill="#fdc827"/><rect x="166.45" y="433.6" width="17.55" height="17.52" fill="#fdae32"/><rect x="188" y="433.6" width="17.1" height="17.52" fill="#fbd724"/><rect x="205.1" y="433.6" width="17.6" height="17.52" fill="#febb2b"/><rect x="222.7" y="433.6" width="17.4" height="17.52" fill="#e87059"/><rect x="244.07" y="433.6" width="17.53" height="17.52" fill="#f79044"/><rect x="261.6" y="433.6" width="18" height="17.52" fill="#f3854b"/><rect x="279.6" y="433.6" width="17.33" height="17.52" fill="#e26561"/><rect x="300.74" y="433.6" width="17.46" height="17.52" fill="#f58b47"/><rect x="318.2" y="433.6" width="17.4" height="17.52" fill="#eb7556"/><rect x="335.6" y="433.6" width="17.62" height="17.52" fill="#9511a1"/><rect x="357.05" y="433.6" width="17.42" height="17.52" fill="#c9447a"/><rect x="374.47" y="433.6" width="18.13" height="17.52" fill="#8305a7"/><rect x="392.6" y="433.6" width="17.28" height="17.52" fill="#350498"/><rect x="413.9" y="433.6" width="17.3" height="17.52" fill="#c13b82"/><rect x="431.2" y="433.6" width="17.5" height="17.52" fill="#7201a8"/><rect x="448.7" y="433.6" width="17.4" height="17.52" fill="#240691"/><rect x="470.13" y="433.6" width="17.37" height="17.52" fill="#9511a1"/><rect x="487.5" y="433.6" width="18" height="17.52" fill="#5102a3"/><rect x="505.5" y="433.6" width="17.4" height="17.52" fill="#240691"/><rect x="527" y="433.6" width="17.25" height="17.52" fill="#8e0ca4"/><rect x="544.25" y="433.6" width="17.45" height="17.52" fill="#4b03a1"/><rect x="561.7" y="433.6" width="17.55" height="17.52" fill="#1b068d"/></g>
<g><rect x="131" y="451.12" width="17.5" height="17.52" fill="#f9dd25"/><rect x="148.5" y="451.12" width="17.95" height="17.52" fill="#fbd724"/><rect x="166.45" y="451.12" width="17.55" height="17.52" fill="#fbd724"/><rect x="188" y="451.12" width="17.1" height="17.52" fill="#fbd724"/><rect x="205.1" y="451.12" width="17.6" height="17.52" fill="#fdc827"/><rect x="222.7" y="451.12" width="17.4" height="17.52" fill="#fca835"/><rect x="244.07" y="451.12" width="17.53" height="17.52" fill="#fa9c3c"/><rect x="261.6" y="451.12" width="18" height="17.52" fill="#f9973f"/><rect x="279.6" y="451.12" width="17.33" height="17.52" fill="#f58b47"/><rect x="300.74" y="451.12" width="17.46" height="17.52" fill="#fa9c3c"/><rect x="318.2" y="451.12" width="17.4" height="17.52" fill="#f58b47"/><rect x="335.6" y="451.12" width="17.62" height="17.52" fill="#d45270"/><rect x="357.05" y="451.12" width="17.42" height="17.52" fill="#db5c68"/><rect x="374.47" y="451.12" width="18.13" height="17.52" fill="#9a169f"/><rect x="392.6" y="451.12" width="17.28" height="17.52" fill="#4b03a1"/><rect x="413.9" y="451.12" width="17.3" height="17.52" fill="#d04d73"/><rect x="431.2" y="451.12" width="17.5" height="17.52" fill="#7a02a8"/><rect x="448.7" y="451.12" width="17.4" height="17.52" fill="#2e0595"/><rect x="470.13" y="451.12" width="17.37" height="17.52" fill="#a51f99"/><rect x="487.5" y="451.12" width="18" height="17.52" fill="#6100a7"/><rect x="505.5" y="451.12" width="17.4" height="17.52" fill="#2e0595"/><rect x="527" y="451.12" width="17.25" height="17.52" fill="#9a169f"/><rect x="544.25" y="451.12" width="17.45" height="17.52" fill="#5102a3"/><rect x="561.7" y="451.12" width="17.55" height="17.52" fill="#240691"/></g>
<g><rect x="131" y="472.69" width="17.5" height="17.52" fill="#f9dd25"/><rect x="148.5" y="472.69" width="17.95" height="17.52" fill="#fdae32"/><rect x="166.45" y="472.69" width="17.55" height="17.52" fill="#9a169f"/><rect x="188" y="472.69" width="17.1" height="17.52" fill="#f9dd25"/><rect x="205.1" y="472.69" width="17.6" height="17.52" fill="#fca835"/><rect x="222.7" y="472.69" width="17.4" height="17.52" fill="#5801a4"/><rect x="244.07" y="472.69" width="17.53" height="17.52" fill="#fba238"/><rect x="261.6" y="472.69" width="18" height="17.52" fill="#e56a5d"/><rect x="279.6" y="472.69" width="17.33" height="17.52" fill="#2e0595"/><rect x="300.74" y="472.69" width="17.46" height="17.52" fill="#fba238"/><rect x="318.2" y="472.69" width="17.4" height="17.52" fill="#e26561"/><rect x="335.6" y="472.69" width="17.62" height="17.52" fill="#1b068d"/><rect x="357.05" y="472.69" width="17.42" height="17.52" fill="#d45270"/><rect x="374.47" y="472.69" width="18.13" height="17.52" fill="#8e0ca4"/><rect x="392.6" y="472.69" width="17.28" height="17.52" fill="#240691"/><rect x="413.9" y="472.69" width="17.3" height="17.52" fill="#d04d73"/><rect x="431.2" y="472.69" width="17.5" height="17.52" fill="#7a02a8"/><rect x="448.7" y="472.69" width="17.4" height="17.52" fill="#240691"/><rect x="470.13" y="472.69" width="17.37" height="17.52" fill="#b7318a"/><rect x="487.5" y="472.69" width="18" height="17.52" fill="#6100a7"/><rect x="505.5" y="472.69" width="17.4" height="17.52" fill="#240691"/><rect x="527" y="472.69" width="17.25" height="17.52" fill="#b42e8d"/><rect x="544.25" y="472.69" width="17.45" height="17.52" fill="#5801a4"/><rect x="561.7" y="472.69" width="17.55" height="17.52" fill="#1b068d"/></g>
<g><rect x="131" y="490.22" width="17.5" height="17.52" fill="#f4ed27"/><rect x="148.5" y="490.22" width="17.95" height="17.52" fill="#fcd025"/><rect x="166.45" y="490.22" width="17.55" height="17.52" fill="#ed7a52"/><rect x="188" y="490.22" width="17.1" height="17.52" fill="#f4ed27"/><rect x="205.1" y="490.22" width="17.6" height="17.52" fill="#fdc827"/><rect x="222.7" y="490.22" width="17.4" height="17.52" fill="#b7318a"/><rect x="244.07" y="490.22" width="17.53" height="17.52" fill="#febb2b"/><rect x="261.6" y="490.22" width="18" height="17.52" fill="#fa9c3c"/><rect x="279.6" y="490.22" width="17.33" height="17.52" fill="#bc3587"/><rect x="300.74" y="490.22" width="17.46" height="17.52" fill="#fdc229"/><rect x="318.2" y="490.22" width="17.4" height="17.52" fill="#f58b47"/><rect x="335.6" y="490.22" width="17.62" height="17.52" fill="#6900a8"/><rect x="357.05" y="490.22" width="17.42" height="17.52" fill="#db5c68"/><rect x="374.47" y="490.22" width="18.13" height="17.52" fill="#9a169f"/><rect x="392.6" y="490.22" width="17.28" height="17.52" fill="#2e0595"/><rect x="413.9" y="490.22" width="17.3" height="17.52" fill="#d45270"/><rect x="431.2" y="490.22" width="17.5" height="17.52" fill="#8305a7"/><rect x="448.7" y="490.22" width="17.4" height="17.52" fill="#240691"/><rect x="470.13" y="490.22" width="17.37" height="17.52" fill="#bc3587"/><rect x="487.5" y="490.22" width="18" height="17.52" fill="#6900a8"/><rect x="505.5" y="490.22" width="17.4" height="17.52" fill="#240691"/><rect x="527" y="490.22" width="17.25" height="17.52" fill="#b42e8d"/><rect x="544.25" y="490.22" width="17.45" height="17.52" fill="#5801a4"/><rect x="561.7" y="490.22" width="17.55" height="17.52" fill="#1b068d"/></g>
<g><rect x="131" y="507.74" width="17.5" height="17.52" fill="#f1f426"/><rect x="148.5" y="507.74" width="17.95" height="17.52" fill="#f4ed27"/><rect x="166.45" y="507.74" width="17.55" height="17.52" fill="#fbd724"/><rect x="188" y="507.74" width="17.1" height="17.52" fill="#f1f426"/><rect x="205.1" y="507.74" width="17.6" height="17.52" fill="#f6e626"/><rect x="222.7" y="507.74" width="17.4" height="17.52" fill="#f79044"/><rect x="244.07" y="507.74" width="17.53" height="17.52" fill="#fdc827"/><rect x="261.6" y="507.74" width="18" height="17.52" fill="#fdc229"/><rect x="279.6" y="507.74" width="17.33" height="17.52" fill="#fa9c3c"/><rect x="300.74" y="507.74" width="17.46" height="17.52" fill="#fdc827"/><rect x="318.2" y="507.74" width="17.4" height="17.52" fill="#fdae32"/><rect x="335.6" y="507.74" width="17.62" height="17.52" fill="#d7566c"/><rect x="357.05" y="507.74" width="17.42" height="17.52" fill="#e87059"/><rect x="374.47" y="507.74" width="18.13" height="17.52" fill="#b02991"/><rect x="392.6" y="507.74" width="17.28" height="17.52" fill="#4b03a1"/><rect x="413.9" y="507.74" width="17.3" height="17.52" fill="#db5c68"/><rect x="431.2" y="507.74" width="17.5" height="17.52" fill="#9511a1"/><rect x="448.7" y="507.74" width="17.4" height="17.52" fill="#2e0595"/><rect x="470.13" y="507.74" width="17.37" height="17.52" fill="#c13b82"/><rect x="487.5" y="507.74" width="18" height="17.52" fill="#7a02a8"/><rect x="505.5" y="507.74" width="17.4" height="17.52" fill="#2e0595"/><rect x="527" y="507.74" width="17.25" height="17.52" fill="#b7318a"/><rect x="544.25" y="507.74" width="17.45" height="17.52" fill="#6100a7"/><rect x="561.7" y="507.74" width="17.55" height="17.52" fill="#240691"/></g>
<g><rect x="131" y="525.27" width="17.5" height="17.52" fill="#f0f921"/><rect x="148.5" y="525.27" width="17.95" height="17.52" fill="#f0f921"/><rect x="166.45" y="525.27" width="17.55" height="17.52" fill="#f0f921"/><rect x="188" y="525.27" width="17.1" height="17.52" fill="#f1f426"/><rect x="205.1" y="525.27" width="17.6" height="17.52" fill="#f4ed27"/><rect x="222.7" y="525.27" width="17.4" height="17.52" fill="#f9dd25"/><rect x="244.07" y="525.27" width="17.53" height="17.52" fill="#fcd025"/><rect x="261.6" y="525.27" width="18" height="17.52" fill="#fcd025"/><rect x="279.6" y="525.27" width="17.33" height="17.52" fill="#fdc827"/><rect x="300.74" y="525.27" width="17.46" height="17.52" fill="#fcd025"/><rect x="318.2" y="525.27" width="17.4" height="17.52" fill="#fdc827"/><rect x="335.6" y="525.27" width="17.62" height="17.52" fill="#fdb52e"/><rect x="357.05" y="525.27" width="17.42" height="17.52" fill="#f58b47"/><rect x="374.47" y="525.27" width="18.13" height="17.52" fill="#cc4977"/><rect x="392.6" y="525.27" width="17.28" height="17.52" fill="#8305a7"/><rect x="413.9" y="525.27" width="17.3" height="17.52" fill="#f3854b"/><rect x="431.2" y="525.27" width="17.5" height="17.52" fill="#b42e8d"/><rect x="448.7" y="525.27" width="17.4" height="17.52" fill="#5801a4"/><rect x="470.13" y="525.27" width="17.37" height="17.52" fill="#d7566c"/><rect x="487.5" y="525.27" width="18" height="17.52" fill="#9a169f"/><rect x="505.5" y="525.27" width="17.4" height="17.52" fill="#4b03a1"/><rect x="527" y="525.27" width="17.25" height="17.52" fill="#d04d73"/><rect x="544.25" y="525.27" width="17.45" height="17.52" fill="#8305a7"/><rect x="561.7" y="525.27" width="17.55" height="17.52" fill="#3c049b"/></g>
<g><rect x="131" y="546.83" width="17.5" height="17.52" fill="#fdc827"/><rect x="148.5" y="546.83" width="17.95" height="17.52" fill="#fba238"/><rect x="166.45" y="546.83" width="17.55" height="17.52" fill="#9511a1"/><rect x="188" y="546.83" width="17.1" height="17.52" fill="#fdc827"/><rect x="205.1" y="546.83" width="17.6" height="17.52" fill="#f79044"/><rect x="222.7" y="546.83" width="17.4" height="17.52" fill="#5102a3"/><rect x="244.07" y="546.83" width="17.53" height="17.52" fill="#ed7a52"/><rect x="261.6" y="546.83" width="18" height="17.52" fill="#d04d73"/><rect x="279.6" y="546.83" width="17.33" height="17.52" fill="#240691"/><rect x="300.74" y="546.83" width="17.46" height="17.52" fill="#ed7a52"/><rect x="318.2" y="546.83" width="17.4" height="17.52" fill="#c9447a"/><rect x="335.6" y="546.83" width="17.62" height="17.52" fill="#1b068d"/><rect x="357.05" y="546.83" width="17.42" height="17.52" fill="#d04d73"/><rect x="374.47" y="546.83" width="18.13" height="17.52" fill="#8808a6"/><rect x="392.6" y="546.83" width="17.28" height="17.52" fill="#240691"/><rect x="413.9" y="546.83" width="17.3" height="17.52" fill="#cc4977"/><rect x="431.2" y="546.83" width="17.5" height="17.52" fill="#7a02a8"/><rect x="448.7" y="546.83" width="17.4" height="17.52" fill="#1b068d"/><rect x="470.13" y="546.83" width="17.37" height="17.52" fill="#ab2494"/><rect x="487.5" y="546.83" width="18" height="17.52" fill="#5801a4"/><rect x="505.5" y="546.83" width="17.4" height="17.52" fill="#1b068d"/><rect x="527" y="546.83" width="17.25" height="17.52" fill="#a01a9c"/><rect x="544.25" y="546.83" width="17.45" height="17.52" fill="#5102a3"/><rect x="561.7" y="546.83" width="17.55" height="17.52" fill="#1b068d"/></g>
<g><rect x="131" y="564.36" width="17.5" height="17.52" fill="#fcd025"/><rect x="148.5" y="564.36" width="17.95" height="17.52" fill="#fdb52e"/><rect x="166.45" y="564.36" width="17.55" height="17.52" fill="#e26561"/><rect x="188" y="564.36" width="17.1" height="17.52" fill="#fcd025"/><rect x="205.1" y="564.36" width="17.6" height="17.52" fill="#fca835"/><rect x="222.7" y="564.36" width="17.4" height="17.52" fill="#a51f99"/><rect x="244.07" y="564.36" width="17.53" height="17.52" fill="#f3854b"/><rect x="261.6" y="564.36" width="18" height="17.52" fill="#e87059"/><rect x="279.6" y="564.36" width="17.33" height="17.52" fill="#8e0ca4"/><rect x="300.74" y="564.36" width="17.46" height="17.52" fill="#f3854b"/><rect x="318.2" y="564.36" width="17.4" height="17.52" fill="#db5c68"/><rect x="335.6" y="564.36" width="17.62" height="17.52" fill="#43039e"/><rect x="357.05" y="564.36" width="17.42" height="17.52" fill="#d45270"/><rect x="374.47" y="564.36" width="18.13" height="17.52" fill="#8e0ca4"/><rect x="392.6" y="564.36" width="17.28" height="17.52" fill="#2e0595"/><rect x="413.9" y="564.36" width="17.3" height="17.52" fill="#d04d73"/><rect x="431.2" y="564.36" width="17.5" height="17.52" fill="#7a02a8"/><rect x="448.7" y="564.36" width="17.4" height="17.52" fill="#240691"/><rect x="470.13" y="564.36" width="17.37" height="17.52" fill="#ab2494"/><rect x="487.5" y="564.36" width="18" height="17.52" fill="#5801a4"/><rect x="505.5" y="564.36" width="17.4" height="17.52" fill="#240691"/><rect x="527" y="564.36" width="17.25" height="17.52" fill="#a51f99"/><rect x="544.25" y="564.36" width="17.45" height="17.52" fill="#5102a3"/><rect x="561.7" y="564.36" width="17.55" height="17.52" fill="#1b068d"/></g>
<g><rect x="131" y="581.88" width="17.5" height="17.52" fill="#fbd724"/><rect x="148.5" y="581.88" width="17.95" height="17.52" fill="#fdc827"/><rect x="166.45" y="581.88" width="17.55" height="17.52" fill="#fca835"/><rect x="188" y="581.88" width="17.1" height="17.52" fill="#fbd724"/><rect x="205.1" y="581.88" width="17.6" height="17.52" fill="#febb2b"/><rect x="222.7" y="581.88" width="17.4" height="17.52" fill="#e26561"/><rect x="244.07" y="581.88" width="17.53" height="17.52" fill="#f79044"/><rect x="261.6" y="581.88" width="18" height="17.52" fill="#f3854b"/><rect x="279.6" y="581.88" width="17.33" height="17.52" fill="#db5c68"/><rect x="300.74" y="581.88" width="17.46" height="17.52" fill="#f58b47"/><rect x="318.2" y="581.88" width="17.4" height="17.52" fill="#eb7556"/><rect x="335.6" y="581.88" width="17.62" height="17.52" fill="#9511a1"/><rect x="357.05" y="581.88" width="17.42" height="17.52" fill="#db5c68"/><rect x="374.47" y="581.88" width="18.13" height="17.52" fill="#9a169f"/><rect x="392.6" y="581.88" width="17.28" height="17.52" fill="#3c049b"/><rect x="413.9" y="581.88" width="17.3" height="17.52" fill="#d45270"/><rect x="431.2" y="581.88" width="17.5" height="17.52" fill="#8808a6"/><rect x="448.7" y="581.88" width="17.4" height="17.52" fill="#2e0595"/><rect x="470.13" y="581.88" width="17.37" height="17.52" fill="#b02991"/><rect x="487.5" y="581.88" width="18" height="17.52" fill="#6100a7"/><rect x="505.5" y="581.88" width="17.4" height="17.52" fill="#240691"/><rect x="527" y="581.88" width="17.25" height="17.52" fill="#a51f99"/><rect x="544.25" y="581.88" width="17.45" height="17.52" fill="#5801a4"/><rect x="561.7" y="581.88" width="17.55" height="17.52" fill="#240691"/></g>
<g><rect x="131" y="599.41" width="17.5" height="17.52" fill="#f9dd25"/><rect x="148.5" y="599.41" width="17.95" height="17.52" fill="#fbd724"/><rect x="166.45" y="599.41" width="17.55" height="17.52" fill="#fbd724"/><rect x="188" y="599.41" width="17.1" height="17.52" fill="#fbd724"/><rect x="205.1" y="599.41" width="17.6" height="17.52" fill="#fdc827"/><rect x="222.7" y="599.41" width="17.4" height="17.52" fill="#fca835"/><rect x="244.07" y="599.41" width="17.53" height="17.52" fill="#fa9c3c"/><rect x="261.6" y="599.41" width="18" height="17.52" fill="#f9973f"/><rect x="279.6" y="599.41" width="17.33" height="17.52" fill="#f3854b"/><rect x="300.74" y="599.41" width="17.46" height="17.52" fill="#fa9c3c"/><rect x="318.2" y="599.41" width="17.4" height="17.52" fill="#f58b47"/><rect x="335.6" y="599.41" width="17.62" height="17.52" fill="#d45270"/><rect x="357.05" y="599.41" width="17.42" height="17.52" fill="#e87059"/><rect x="374.47" y="599.41" width="18.13" height="17.52" fill="#b42e8d"/><rect x="392.6" y="599.41" width="17.28" height="17.52" fill="#5801a4"/><rect x="413.9" y="599.41" width="17.3" height="17.52" fill="#e56a5d"/><rect x="431.2" y="599.41" width="17.5" height="17.52" fill="#9a169f"/><rect x="448.7" y="599.41" width="17.4" height="17.52" fill="#3c049b"/><rect x="470.13" y="599.41" width="17.37" height="17.52" fill="#bc3587"/><rect x="487.5" y="599.41" width="18" height="17.52" fill="#7201a8"/><rect x="505.5" y="599.41" width="17.4" height="17.52" fill="#350498"/><rect x="527" y="599.41" width="17.25" height="17.52" fill="#b42e8d"/><rect x="544.25" y="599.41" width="17.45" height="17.52" fill="#6100a7"/><rect x="561.7" y="599.41" width="17.55" height="17.52" fill="#2e0595"/></g>
</g>
<g id="gridlines" stroke="#fff">
<g stroke-width="0.95"><line x1="131" y1="45.38" x2="184" y2="45.38"/><line x1="188" y1="45.38" x2="240.1" y2="45.38"/><line x1="244.07" y1="45.38" x2="296.93" y2="45.38"/><line x1="300.74" y1="45.38" x2="353.22" y2="45.38"/><line x1="357.05" y1="45.38" x2="409.88" y2="45.38"/><line x1="413.9" y1="45.38" x2="466.1" y2="45.38"/><line x1="470.13" y1="45.38" x2="522.9" y2="45.38"/><line x1="527" y1="45.38" x2="579.25" y2="45.38"/><line x1="131" y1="62.9" x2="184" y2="62.9"/><line x1="188" y1="62.9" x2="240.1" y2="62.9"/><line x1="244.07" y1="62.9" x2="296.93" y2="62.9"/><line x1="300.74" y1="62.9" x2="353.22" y2="62.9"/><line x1="357.05" y1="62.9" x2="409.88" y2="62.9"/><line x1="413.9" y1="62.9" x2="466.1" y2="62.9"/><line x1="470.13" y1="62.9" x2="522.9" y2="62.9"/><line x1="527" y1="62.9" x2="579.25" y2="62.9"/><line x1="131" y1="80.42" x2="184" y2="80.42"/><line x1="188" y1="80.42" x2="240.1" y2="80.42"/><line x1="244.07" y1="80.42" x2="296.93" y2="80.42"/><line x1="300.74" y1="80.42" x2="353.22" y2="80.42"/><line x1="357.05" y1="80.42" x2="409.88" y2="80.42"/><line x1="413.9" y1="80.42" x2="466.1" y2="80.42"/><line x1="470.13" y1="80.42" x2="522.9" y2="80.42"/><line x1="527" y1="80.42" x2="579.25" y2="80.42"/>
<line x1="131" y1="119.52" x2="184" y2="119.52"/><line x1="188" y1="119.52" x2="240.1" y2="119.52"/><line x1="244.07" y1="119.52" x2="296.93" y2="119.52"/><line x1="300.74" y1="119.52" x2="353.22" y2="119.52"/><line x1="357.05" y1="119.52" x2="409.88" y2="119.52"/><line x1="413.9" y1="119.52" x2="466.1" y2="119.52"/><line x1="470.13" y1="119.52" x2="522.9" y2="119.52"/><line x1="527" y1="119.52" x2="579.25" y2="119.52"/><line x1="131" y1="137.04" x2="184" y2="137.04"/><line x1="188" y1="137.04" x2="240.1" y2="137.04"/><line x1="244.07" y1="137.04" x2="296.93" y2="137.04"/><line x1="300.74" y1="137.04" x2="353.22" y2="137.04"/><line x1="357.05" y1="137.04" x2="409.88" y2="137.04"/><line x1="413.9" y1="137.04" x2="466.1" y2="137.04"/><line x1="470.13" y1="137.04" x2="522.9" y2="137.04"/><line x1="527" y1="137.04" x2="579.25" y2="137.04"/><line x1="131" y1="154.56" x2="184" y2="154.56"/><line x1="188" y1="154.56" x2="240.1" y2="154.56"/><line x1="244.07" y1="154.56" x2="296.93" y2="154.56"/><line x1="300.74" y1="154.56" x2="353.22" y2="154.56"/><line x1="357.05" y1="154.56" x2="409.88" y2="154.56"/><line x1="413.9" y1="154.56" x2="466.1" y2="154.56"/><line x1="470.13" y1="154.56" x2="522.9" y2="154.56"/><line x1="527" y1="154.56" x2="579.25" y2="154.56"/>
<line x1="131" y1="193.66" x2="184" y2="193.66"/><line x1="188" y1="193.66" x2="240.1" y2="193.66"/><line x1="244.07" y1="193.66" x2="296.93" y2="193.66"/><line x1="300.74" y1="193.66" x2="353.22" y2="193.66"/><line x1="357.05" y1="193.66" x2="409.88" y2="193.66"/><line x1="413.9" y1="193.66" x2="466.1" y2="193.66"/><line x1="470.13" y1="193.66" x2="522.9" y2="193.66"/><line x1="527" y1="193.66" x2="579.25" y2="193.66"/><line x1="131" y1="211.18" x2="184" y2="211.18"/><line x1="188" y1="211.18" x2="240.1" y2="211.18"/><line x1="244.07" y1="211.18" x2="296.93" y2="211.18"/><line x1="300.74" y1="211.18" x2="353.22" y2="211.18"/><line x1="357.05" y1="211.18" x2="409.88" y2="211.18"/><line x1="413.9" y1="211.18" x2="466.1" y2="211.18"/><line x1="470.13" y1="211.18" x2="522.9" y2="211.18"/><line x1="527" y1="211.18" x2="579.25" y2="211.18"/><line x1="131" y1="228.7" x2="184" y2="228.7"/><line x1="188" y1="228.7" x2="240.1" y2="228.7"/><line x1="244.07" y1="228.7" x2="296.93" y2="228.7"/><line x1="300.74" y1="228.7" x2="353.22" y2="228.7"/><line x1="357.05" y1="228.7" x2="409.88" y2="228.7"/><line x1="413.9" y1="228.7" x2="466.1" y2="228.7"/><line x1="470.13" y1="228.7" x2="522.9" y2="228.7"/><line x1="527" y1="228.7" x2="579.25" y2="228.7"/>
<line x1="131" y1="267.8" x2="184" y2="267.8"/><line x1="188" y1="267.8" x2="240.1" y2="267.8"/><line x1="244.07" y1="267.8" x2="296.93" y2="267.8"/><line x1="300.74" y1="267.8" x2="353.22" y2="267.8"/><line x1="357.05" y1="267.8" x2="409.88" y2="267.8"/><line x1="413.9" y1="267.8" x2="466.1" y2="267.8"/><line x1="470.13" y1="267.8" x2="522.9" y2="267.8"/><line x1="527" y1="267.8" x2="579.25" y2="267.8"/><line x1="131" y1="285.32" x2="184" y2="285.32"/><line x1="188" y1="285.32" x2="240.1" y2="285.32"/><line x1="244.07" y1="285.32" x2="296.93" y2="285.32"/><line x1="300.74" y1="285.32" x2="353.22" y2="285.32"/><line x1="357.05" y1="285.32" x2="409.88" y2="285.32"/><line x1="413.9" y1="285.32" x2="466.1" y2="285.32"/><line x1="470.13" y1="285.32" x2="522.9" y2="285.32"/><line x1="527" y1="285.32" x2="579.25" y2="285.32"/><line x1="131" y1="302.85" x2="184" y2="302.85"/><line x1="188" y1="302.85" x2="240.1" y2="302.85"/><line x1="244.07" y1="302.85" x2="296.93" y2="302.85"/><line x1="300.74" y1="302.85" x2="353.22" y2="302.85"/><line x1="357.05" y1="302.85" x2="409.88" y2="302.85"/><line x1="413.9" y1="302.85" x2="466.1" y2="302.85"/><line x1="470.13" y1="302.85" x2="522.9" y2="302.85"/><line x1="527" y1="302.85" x2="579.25" y2="302.85"/>
<line x1="131" y1="341.94" x2="184" y2="341.94"/><line x1="188" y1="341.94" x2="240.1" y2="341.94"/><line x1="244.07" y1="341.94" x2="296.93" y2="341.94"/><line x1="300.74" y1="341.94" x2="353.22" y2="341.94"/><line x1="357.05" y1="341.94" x2="409.88" y2="341.94"/><line x1="413.9" y1="341.94" x2="466.1" y2="341.94"/><line x1="470.13" y1="341.94" x2="522.9" y2="341.94"/><line x1="527" y1="341.94" x2="579.25" y2="341.94"/><line x1="131" y1="359.46" x2="184" y2="359.46"/><line x1="188" y1="359.46" x2="240.1" y2="359.46"/><line x1="244.07" y1="359.46" x2="296.93" y2="359.46"/><line x1="300.74" y1="359.46" x2="353.22" y2="359.46"/><line x1="357.05" y1="359.46" x2="409.88" y2="359.46"/><line x1="413.9" y1="359.46" x2="466.1" y2="359.46"/><line x1="470.13" y1="359.46" x2="522.9" y2="359.46"/><line x1="527" y1="359.46" x2="579.25" y2="359.46"/><line x1="131" y1="376.99" x2="184" y2="376.99"/><line x1="188" y1="376.99" x2="240.1" y2="376.99"/><line x1="244.07" y1="376.99" x2="296.93" y2="376.99"/><line x1="300.74" y1="376.99" x2="353.22" y2="376.99"/><line x1="357.05" y1="376.99" x2="409.88" y2="376.99"/><line x1="413.9" y1="376.99" x2="466.1" y2="376.99"/><line x1="470.13" y1="376.99" x2="522.9" y2="376.99"/><line x1="527" y1="376.99" x2="579.25" y2="376.99"/>
<line x1="131" y1="416.07" x2="184" y2="416.07"/><line x1="188" y1="416.07" x2="240.1" y2="416.07"/><line x1="244.07" y1="416.07" x2="296.93" y2="416.07"/><line x1="300.74" y1="416.07" x2="353.22" y2="416.07"/><line x1="357.05" y1="416.07" x2="409.88" y2="416.07"/><line x1="413.9" y1="416.07" x2="466.1" y2="416.07"/><line x1="470.13" y1="416.07" x2="522.9" y2="416.07"/><line x1="527" y1="416.07" x2="579.25" y2="416.07"/><line x1="131" y1="433.6" x2="184" y2="433.6"/><line x1="188" y1="433.6" x2="240.1" y2="433.6"/><line x1="244.07" y1="433.6" x2="296.93" y2="433.6"/><line x1="300.74" y1="433.6" x2="353.22" y2="433.6"/><line x1="357.05" y1="433.6" x2="409.88" y2="433.6"/><line x1="413.9" y1="433.6" x2="466.1" y2="433.6"/><line x1="470.13" y1="433.6" x2="522.9" y2="433.6"/><line x1="527" y1="433.6" x2="579.25" y2="433.6"/><line x1="131" y1="451.12" x2="184" y2="451.12"/><line x1="188" y1="451.12" x2="240.1" y2="451.12"/><line x1="244.07" y1="451.12" x2="296.93" y2="451.12"/><line x1="300.74" y1="451.12" x2="353.22" y2="451.12"/><line x1="357.05" y1="451.12" x2="409.88" y2="451.12"/><line x1="413.9" y1="451.12" x2="466.1" y2="451.12"/><line x1="470.13" y1="451.12" x2="522.9" y2="451.12"/><line x1="527" y1="451.12" x2="579.25" y2="451.12"/>
<line x1="131" y1="490.22" x2="184" y2="490.22"/><line x1="188" y1="490.22" x2="240.1" y2="490.22"/><line x1="244.07" y1="490.22" x2="296.93" y2="490.22"/><line x1="300.74" y1="490.22" x2="353.22" y2="490.22"/><line x1="357.05" y1="490.22" x2="409.88" y2="490.22"/><line x1="413.9" y1="490.22" x2="466.1" y2="490.22"/><line x1="470.13" y1="490.22" x2="522.9" y2="490.22"/><line x1="527" y1="490.22" x2="579.25" y2="490.22"/><line x1="131" y1="507.74" x2="184" y2="507.74"/><line x1="188" y1="507.74" x2="240.1" y2="507.74"/><line x1="244.07" y1="507.74" x2="296.93" y2="507.74"/><line x1="300.74" y1="507.74" x2="353.22" y2="507.74"/><line x1="357.05" y1="507.74" x2="409.88" y2="507.74"/><line x1="413.9" y1="507.74" x2="466.1" y2="507.74"/><line x1="470.13" y1="507.74" x2="522.9" y2="507.74"/><line x1="527" y1="507.74" x2="579.25" y2="507.74"/><line x1="131" y1="525.27" x2="184" y2="525.27"/><line x1="188" y1="525.27" x2="240.1" y2="525.27"/><line x1="244.07" y1="525.27" x2="296.93" y2="525.27"/><line x1="300.74" y1="525.27" x2="353.22" y2="525.27"/><line x1="357.05" y1="525.27" x2="409.88" y2="525.27"/><line x1="413.9" y1="525.27" x2="466.1" y2="525.27"/><line x1="470.13" y1="525.27" x2="522.9" y2="525.27"/><line x1="527" y1="525.27" x2="579.25" y2="525.27"/>
<line x1="131" y1="564.36" x2="184" y2="564.36"/><line x1="188" y1="564.36" x2="240.1" y2="564.36"/><line x1="244.07" y1="564.36" x2="296.93" y2="564.36"/><line x1="300.74" y1="564.36" x2="353.22" y2="564.36"/><line x1="357.05" y1="564.36" x2="409.88" y2="564.36"/><line x1="413.9" y1="564.36" x2="466.1" y2="564.36"/><line x1="470.13" y1="564.36" x2="522.9" y2="564.36"/><line x1="527" y1="564.36" x2="579.25" y2="564.36"/><line x1="131" y1="581.88" x2="184" y2="581.88"/><line x1="188" y1="581.88" x2="240.1" y2="581.88"/><line x1="244.07" y1="581.88" x2="296.93" y2="581.88"/><line x1="300.74" y1="581.88" x2="353.22" y2="581.88"/><line x1="357.05" y1="581.88" x2="409.88" y2="581.88"/><line x1="413.9" y1="581.88" x2="466.1" y2="581.88"/><line x1="470.13" y1="581.88" x2="522.9" y2="581.88"/><line x1="527" y1="581.88" x2="579.25" y2="581.88"/><line x1="131" y1="599.41" x2="184" y2="599.41"/><line x1="188" y1="599.41" x2="240.1" y2="599.41"/><line x1="244.07" y1="599.41" x2="296.93" y2="599.41"/><line x1="300.74" y1="599.41" x2="353.22" y2="599.41"/><line x1="357.05" y1="599.41" x2="409.88" y2="599.41"/><line x1="413.9" y1="599.41" x2="466.1" y2="599.41"/><line x1="470.13" y1="599.41" x2="522.9" y2="599.41"/><line x1="527" y1="599.41" x2="579.25" y2="599.41"/>
</g>
<g stroke-width="0.7"><line x1="148.5" y1="27.85" x2="148.5" y2="97.95"/><line x1="148.5" y1="101.99" x2="148.5" y2="172.09"/><line x1="148.5" y1="176.13" x2="148.5" y2="246.23"/><line x1="148.5" y1="250.27" x2="148.5" y2="320.37"/><line x1="148.5" y1="324.41" x2="148.5" y2="394.51"/><line x1="148.5" y1="398.55" x2="148.5" y2="468.65"/><line x1="148.5" y1="472.69" x2="148.5" y2="542.79"/><line x1="148.5" y1="546.83" x2="148.5" y2="616.93"/><line x1="166.45" y1="27.85" x2="166.45" y2="97.95"/><line x1="166.45" y1="101.99" x2="166.45" y2="172.09"/><line x1="166.45" y1="176.13" x2="166.45" y2="246.23"/><line x1="166.45" y1="250.27" x2="166.45" y2="320.37"/><line x1="166.45" y1="324.41" x2="166.45" y2="394.51"/><line x1="166.45" y1="398.55" x2="166.45" y2="468.65"/><line x1="166.45" y1="472.69" x2="166.45" y2="542.79"/><line x1="166.45" y1="546.83" x2="166.45" y2="616.93"/>
<line x1="205.1" y1="27.85" x2="205.1" y2="97.95"/><line x1="205.1" y1="101.99" x2="205.1" y2="172.09"/><line x1="205.1" y1="176.13" x2="205.1" y2="246.23"/><line x1="205.1" y1="250.27" x2="205.1" y2="320.37"/><line x1="205.1" y1="324.41" x2="205.1" y2="394.51"/><line x1="205.1" y1="398.55" x2="205.1" y2="468.65"/><line x1="205.1" y1="472.69" x2="205.1" y2="542.79"/><line x1="205.1" y1="546.83" x2="205.1" y2="616.93"/><line x1="222.7" y1="27.85" x2="222.7" y2="97.95"/><line x1="222.7" y1="101.99" x2="222.7" y2="172.09"/><line x1="222.7" y1="176.13" x2="222.7" y2="246.23"/><line x1="222.7" y1="250.27" x2="222.7" y2="320.37"/><line x1="222.7" y1="324.41" x2="222.7" y2="394.51"/><line x1="222.7" y1="398.55" x2="222.7" y2="468.65"/><line x1="222.7" y1="472.69" x2="222.7" y2="542.79"/><line x1="222.7" y1="546.83" x2="222.7" y2="616.93"/>
<line x1="261.6" y1="27.85" x2="261.6" y2="97.95"/><line x1="261.6" y1="101.99" x2="261.6" y2="172.09"/><line x1="261.6" y1="176.13" x2="261.6" y2="246.23"/><line x1="261.6" y1="250.27" x2="261.6" y2="320.37"/><line x1="261.6" y1="324.41" x2="261.6" y2="394.51"/><line x1="261.6" y1="398.55" x2="261.6" y2="468.65"/><line x1="261.6" y1="472.69" x2="261.6" y2="542.79"/><line x1="261.6" y1="546.83" x2="261.6" y2="616.93"/><line x1="279.6" y1="27.85" x2="279.6" y2="97.95"/><line x1="279.6" y1="101.99" x2="279.6" y2="172.09"/><line x1="279.6" y1="176.13" x2="279.6" y2="246.23"/><line x1="279.6" y1="250.27" x2="279.6" y2="320.37"/><line x1="279.6" y1="324.41" x2="279.6" y2="394.51"/><line x1="279.6" y1="398.55" x2="279.6" y2="468.65"/><line x1="279.6" y1="472.69" x2="279.6" y2="542.79"/><line x1="279.6" y1="546.83" x2="279.6" y2="616.93"/>
<line x1="318.2" y1="27.85" x2="318.2" y2="97.95"/><line x1="318.2" y1="101.99" x2="318.2" y2="172.09"/><line x1="318.2" y1="176.13" x2="318.2" y2="246.23"/><line x1="318.2" y1="250.27" x2="318.2" y2="320.37"/><line x1="318.2" y1="324.41" x2="318.2" y2="394.51"/><line x1="318.2" y1="398.55" x2="318.2" y2="468.65"/><line x1="318.2" y1="472.69" x2="318.2" y2="542.79"/><line x1="318.2" y1="546.83" x2="318.2" y2="616.93"/><line x1="335.6" y1="27.85" x2="335.6" y2="97.95"/><line x1="335.6" y1="101.99" x2="335.6" y2="172.09"/><line x1="335.6" y1="176.13" x2="335.6" y2="246.23"/><line x1="335.6" y1="250.27" x2="335.6" y2="320.37"/><line x1="335.6" y1="324.41" x2="335.6" y2="394.51"/><line x1="335.6" y1="398.55" x2="335.6" y2="468.65"/><line x1="335.6" y1="472.69" x2="335.6" y2="542.79"/><line x1="335.6" y1="546.83" x2="335.6" y2="616.93"/>
<line x1="374.47" y1="27.85" x2="374.47" y2="97.95"/><line x1="374.47" y1="101.99" x2="374.47" y2="172.09"/><line x1="374.47" y1="176.13" x2="374.47" y2="246.23"/><line x1="374.47" y1="250.27" x2="374.47" y2="320.37"/><line x1="374.47" y1="324.41" x2="374.47" y2="394.51"/><line x1="374.47" y1="398.55" x2="374.47" y2="468.65"/><line x1="374.47" y1="472.69" x2="374.47" y2="542.79"/><line x1="374.47" y1="546.83" x2="374.47" y2="616.93"/><line x1="392.6" y1="27.85" x2="392.6" y2="97.95"/><line x1="392.6" y1="101.99" x2="392.6" y2="172.09"/><line x1="392.6" y1="176.13" x2="392.6" y2="246.23"/><line x1="392.6" y1="250.27" x2="392.6" y2="320.37"/><line x1="392.6" y1="324.41" x2="392.6" y2="394.51"/><line x1="392.6" y1="398.55" x2="392.6" y2="468.65"/><line x1="392.6" y1="472.69" x2="392.6" y2="542.79"/><line x1="392.6" y1="546.83" x2="392.6" y2="616.93"/>
<line x1="431.2" y1="27.85" x2="431.2" y2="97.95"/><line x1="431.2" y1="101.99" x2="431.2" y2="172.09"/><line x1="431.2" y1="176.13" x2="431.2" y2="246.23"/><line x1="431.2" y1="250.27" x2="431.2" y2="320.37"/><line x1="431.2" y1="324.41" x2="431.2" y2="394.51"/><line x1="431.2" y1="398.55" x2="431.2" y2="468.65"/><line x1="431.2" y1="472.69" x2="431.2" y2="542.79"/><line x1="431.2" y1="546.83" x2="431.2" y2="616.93"/><line x1="448.7" y1="27.85" x2="448.7" y2="97.95"/><line x1="448.7" y1="101.99" x2="448.7" y2="172.09"/><line x1="448.7" y1="176.13" x2="448.7" y2="246.23"/><line x1="448.7" y1="250.27" x2="448.7" y2="320.37"/><line x1="448.7" y1="324.41" x2="448.7" y2="394.51"/><line x1="448.7" y1="398.55" x2="448.7" y2="468.65"/><line x1="448.7" y1="472.69" x2="448.7" y2="542.79"/><line x1="448.7" y1="546.83" x2="448.7" y2="616.93"/>
<line x1="487.5" y1="27.85" x2="487.5" y2="97.95"/><line x1="487.5" y1="101.99" x2="487.5" y2="172.09"/><line x1="487.5" y1="176.13" x2="487.5" y2="246.23"/><line x1="487.5" y1="250.27" x2="487.5" y2="320.37"/><line x1="487.5" y1="324.41" x2="487.5" y2="394.51"/><line x1="487.5" y1="398.55" x2="487.5" y2="468.65"/><line x1="487.5" y1="472.69" x2="487.5" y2="542.79"/><line x1="487.5" y1="546.83" x2="487.5" y2="616.93"/><line x1="505.5" y1="27.85" x2="505.5" y2="97.95"/><line x1="505.5" y1="101.99" x2="505.5" y2="172.09"/><line x1="505.5" y1="176.13" x2="505.5" y2="246.23"/><line x1="505.5" y1="250.27" x2="505.5" y2="320.37"/><line x1="505.5" y1="324.41" x2="505.5" y2="394.51"/><line x1="505.5" y1="398.55" x2="505.5" y2="468.65"/><line x1="505.5" y1="472.69" x2="505.5" y2="542.79"/><line x1="505.5" y1="546.83" x2="505.5" y2="616.93"/>
<line x1="544.25" y1="27.85" x2="544.25" y2="97.95"/><line x1="544.25" y1="101.99" x2="544.25" y2="172.09"/><line x1="544.25" y1="176.13" x2="544.25" y2="246.23"/><line x1="544.25" y1="250.27" x2="544.25" y2="320.37"/><line x1="544.25" y1="324.41" x2="544.25" y2="394.51"/><line x1="544.25" y1="398.55" x2="544.25" y2="468.65"/><line x1="544.25" y1="472.69" x2="544.25" y2="542.79"/><line x1="544.25" y1="546.83" x2="544.25" y2="616.93"/><line x1="561.7" y1="27.85" x2="561.7" y2="97.95"/><line x1="561.7" y1="101.99" x2="561.7" y2="172.09"/><line x1="561.7" y1="176.13" x2="561.7" y2="246.23"/><line x1="561.7" y1="250.27" x2="561.7" y2="320.37"/><line x1="561.7" y1="324.41" x2="561.7" y2="394.51"/><line x1="561.7" y1="398.55" x2="561.7" y2="468.65"/><line x1="561.7" y1="472.69" x2="561.7" y2="542.79"/><line x1="561.7" y1="546.83" x2="561.7" y2="616.93"/>
</g>
</g>
<g id="annotations" transform="scale(0.9 1)">
<g><text class="a k" x="155.28" y="38.41">0.5</text><text class="a" x="174.97" y="38.41">0.4</text><text class="a" x="194.69" y="38.41">0.3</text><text class="a" x="218.39" y="38.41">0.5</text><text class="a" x="237.67" y="38.41">0.4</text><text class="a" x="257.11" y="38.41">0.2</text><text class="a" x="280.93" y="38.41">0.4</text><text class="a" x="300.67" y="38.41">0.3</text><text class="a" x="320.29" y="38.41">0.1</text><text class="a" x="343.86" y="38.41">0.4</text><text class="a" x="363.22" y="38.41">0.3</text><text class="a" x="382.68" y="38.41">0.1</text><text class="a" x="406.4" y="38.41">0.2</text><text class="a" x="426.15" y="38.41">0.1</text><text class="a" x="445.82" y="38.41">0.0</text><text class="a" x="469.5" y="38.41">0.2</text><text class="a" x="488.83" y="38.41">0.1</text><text class="a" x="508.22" y="38.41">0.0</text><text class="a" x="532.02" y="38.41">0.2</text><text class="a" x="551.67" y="38.41">0.1</text><text class="a" x="571.33" y="38.41">0.0</text><text class="a" x="595.14" y="38.41">0.2</text><text class="a" x="614.42" y="38.41">0.1</text><text class="a" x="633.86" y="38.41">0.0</text></g>
<g><text class="a k" x="155.28" y="55.94">0.5</text><text class="a" x="174.97" y="55.94">0.4</text><text class="a" x="194.69" y="55.94">0.3</text><text class="a k" x="218.39" y="55.94">0.5</text><text class="a" x="237.67" y="55.94">0.4</text><text class="a" x="257.11" y="55.94">0.2</text><text class="a" x="280.93" y="55.94">0.4</text><text class="a" x="300.67" y="55.94">0.3</text><text class="a" x="320.29" y="55.94">0.2</text><text class="a" x="343.86" y="55.94">0.4</text><text class="a" x="363.22" y="55.94">0.3</text><text class="a" x="382.68" y="55.94">0.1</text><text class="a" x="406.4" y="55.94">0.3</text><text class="a" x="426.15" y="55.94">0.1</text><text class="a" x="445.82" y="55.94">0.0</text><text class="a" x="469.5" y="55.94">0.2</text><text class="a" x="488.83" y="55.94">0.1</text><text class="a" x="508.22" y="55.94">0.0</text><text class="a" x="532.02" y="55.94">0.2</text><text class="a" x="551.67" y="55.94">0.1</text><text class="a" x="571.33" y="55.94">0.0</text><text class="a" x="595.14" y="55.94">0.2</text><text class="a" x="614.42" y="55.94">0.1</text><text class="a" x="633.86" y="55.94">0.0</text></g>
<g><text class="a k" x="155.28" y="73.46">0.5</text><text class="a" x="174.97" y="73.46">0.5</text><text class="a" x="194.69" y="73.46">0.4</text><text class="a k" x="218.39" y="73.46">0.5</text><text class="a" x="237.67" y="73.46">0.4</text><text class="a" x="257.11" y="73.46">0.3</text><text class="a" x="280.93" y="73.46">0.4</text><text class="a" x="300.67" y="73.46">0.4</text><text class="a" x="320.29" y="73.46">0.3</text><text class="a" x="343.86" y="73.46">0.4</text><text class="a" x="363.22" y="73.46">0.3</text><text class="a" x="382.68" y="73.46">0.2</text><text class="a" x="406.4" y="73.46">0.3</text><text class="a" x="426.15" y="73.46">0.1</text><text class="a" x="445.82" y="73.46">0.0</text><text class="a" x="469.5" y="73.46">0.2</text><text class="a" x="488.83" y="73.46">0.1</text><text class="a" x="508.22" y="73.46">0.0</text><text class="a" x="532.02" y="73.46">0.2</text><text class="a" x="551.67" y="73.46">0.1</text><text class="a" x="571.33" y="73.46">0.0</text><text class="a" x="595.14" y="73.46">0.2</text><text class="a" x="614.42" y="73.46">0.1</text><text class="a" x="633.86" y="73.46">0.0</text></g>
<g><text class="a k" x="155.28" y="90.99">0.5</text><text class="a k" x="174.97" y="90.99">0.5</text><text class="a" x="194.69" y="90.99">0.4</text><text class="a k" x="218.39" y="90.99">0.5</text><text class="a k" x="237.67" y="90.99">0.5</text><text class="a" x="257.11" y="90.99">0.4</text><text class="a" x="280.93" y="90.99">0.4</text><text class="a" x="300.67" y="90.99">0.4</text><text class="a" x="320.29" y="90.99">0.4</text><text class="a" x="343.86" y="90.99">0.4</text><text class="a" x="363.22" y="90.99">0.4</text><text class="a" x="382.68" y="90.99">0.3</text><text class="a" x="406.4" y="90.99">0.3</text><text class="a" x="426.15" y="90.99">0.2</text><text class="a" x="445.82" y="90.99">0.1</text><text class="a" x="469.5" y="90.99">0.3</text><text class="a" x="488.83" y="90.99">0.1</text><text class="a" x="508.22" y="90.99">0.0</text><text class="a" x="532.02" y="90.99">0.2</text><text class="a" x="551.67" y="90.99">0.1</text><text class="a" x="571.33" y="90.99">0.0</text><text class="a" x="595.14" y="90.99">0.2</text><text class="a" x="614.42" y="90.99">0.1</text><text class="a" x="633.86" y="90.99">0.0</text></g>
<g><text class="a" x="155.28" y="112.55">0.4</text><text class="a" x="174.97" y="112.55">0.4</text><text class="a" x="194.69" y="112.55">0.3</text><text class="a" x="218.39" y="112.55">0.4</text><text class="a" x="237.67" y="112.55">0.4</text><text class="a" x="257.11" y="112.55">0.2</text><text class="a" x="280.93" y="112.55">0.3</text><text class="a" x="300.67" y="112.55">0.3</text><text class="a" x="320.29" y="112.55">0.1</text><text class="a" x="343.86" y="112.55">0.3</text><text class="a" x="363.22" y="112.55">0.2</text><text class="a" x="382.68" y="112.55">0.0</text><text class="a" x="406.4" y="112.55">0.2</text><text class="a" x="426.15" y="112.55">0.1</text><text class="a" x="445.82" y="112.55">0.0</text><text class="a" x="469.5" y="112.55">0.2</text><text class="a" x="488.83" y="112.55">0.1</text><text class="a" x="508.22" y="112.55">0.0</text><text class="a" x="532.02" y="112.55">0.1</text><text class="a" x="551.67" y="112.55">0.1</text><text class="a" x="571.33" y="112.55">0.0</text><text class="a" x="595.14" y="112.55">0.1</text><text class="a" x="614.42" y="112.55">0.1</text><text class="a" x="633.86" y="112.55">0.0</text></g>
<g><text class="a" x="155.28" y="130.08">0.4</text><text class="a" x="174.97" y="130.08">0.4</text><text class="a" x="194.69" y="130.08">0.3</text><text class="a" x="218.39" y="130.08">0.4</text><text class="a" x="237.67" y="130.08">0.4</text><text class="a" x="257.11" y="130.08">0.2</text><text class="a" x="280.93" y="130.08">0.3</text><text class="a" x="300.67" y="130.08">0.3</text><text class="a" x="320.29" y="130.08">0.2</text><text class="a" x="343.86" y="130.08">0.3</text><text class="a" x="363.22" y="130.08">0.2</text><text class="a" x="382.68" y="130.08">0.1</text><text class="a" x="406.4" y="130.08">0.2</text><text class="a" x="426.15" y="130.08">0.1</text><text class="a" x="445.82" y="130.08">0.0</text><text class="a" x="469.5" y="130.08">0.2</text><text class="a" x="488.83" y="130.08">0.1</text><text class="a" x="508.22" y="130.08">0.0</text><text class="a" x="532.02" y="130.08">0.1</text><text class="a" x="551.67" y="130.08">0.1</text><text class="a" x="571.33" y="130.08">0.0</text><text class="a" x="595.14" y="130.08">0.1</text><text class="a" x="614.42" y="130.08">0.1</text><text class="a" x="633.86" y="130.08">0.0</text></g>
<g><text class="a" x="155.28" y="147.6">0.4</text><text class="a" x="174.97" y="147.6">0.4</text><text class="a" x="194.69" y="147.6">0.4</text><text class="a" x="218.39" y="147.6">0.4</text><text class="a" x="237.67" y="147.6">0.4</text><text class="a" x="257.11" y="147.6">0.3</text><text class="a" x="280.93" y="147.6">0.3</text><text class="a" x="300.67" y="147.6">0.3</text><text class="a" x="320.29" y="147.6">0.2</text><text class="a" x="343.86" y="147.6">0.3</text><text class="a" x="363.22" y="147.6">0.3</text><text class="a" x="382.68" y="147.6">0.1</text><text class="a" x="406.4" y="147.6">0.2</text><text class="a" x="426.15" y="147.6">0.1</text><text class="a" x="445.82" y="147.6">0.0</text><text class="a" x="469.5" y="147.6">0.2</text><text class="a" x="488.83" y="147.6">0.1</text><text class="a" x="508.22" y="147.6">0.0</text><text class="a" x="532.02" y="147.6">0.1</text><text class="a" x="551.67" y="147.6">0.1</text><text class="a" x="571.33" y="147.6">0.0</text><text class="a" x="595.14" y="147.6">0.1</text><text class="a" x="614.42" y="147.6">0.1</text><text class="a" x="633.86" y="147.6">0.0</text></g>
<g><text class="a" x="155.28" y="165.13">0.4</text><text class="a" x="174.97" y="165.13">0.4</text><text class="a" x="194.69" y="165.13">0.4</text><text class="a" x="218.39" y="165.13">0.4</text><text class="a" x="237.67" y="165.13">0.4</text><text class="a" x="257.11" y="165.13">0.3</text><text class="a" x="280.93" y="165.13">0.3</text><text class="a" x="300.67" y="165.13">0.3</text><text class="a" x="320.29" y="165.13">0.2</text><text class="a" x="343.86" y="165.13">0.3</text><text class="a" x="363.22" y="165.13">0.3</text><text class="a" x="382.68" y="165.13">0.2</text><text class="a" x="406.4" y="165.13">0.2</text><text class="a" x="426.15" y="165.13">0.1</text><text class="a" x="445.82" y="165.13">0.0</text><text class="a" x="469.5" y="165.13">0.2</text><text class="a" x="488.83" y="165.13">0.1</text><text class="a" x="508.22" y="165.13">0.0</text><text class="a" x="532.02" y="165.13">0.2</text><text class="a" x="551.67" y="165.13">0.1</text><text class="a" x="571.33" y="165.13">0.0</text><text class="a" x="595.14" y="165.13">0.1</text><text class="a" x="614.42" y="165.13">0.1</text><text class="a" x="633.86" y="165.13">0.0</text></g>
<g><text class="a k" x="155.28" y="186.69">0.5</text><text class="a" x="174.97" y="186.69">0.4</text><text class="a" x="194.69" y="186.69">0.2</text><text class="a k" x="218.39" y="186.69">0.5</text><text class="a" x="237.67" y="186.69">0.4</text><text class="a" x="257.11" y="186.69">0.2</text><text class="a" x="280.93" y="186.69">0.4</text><text class="a" x="300.67" y="186.69">0.3</text><text class="a" x="320.29" y="186.69">0.1</text><text class="a" x="343.86" y="186.69">0.4</text><text class="a" x="363.22" y="186.69">0.3</text><text class="a" x="382.68" y="186.69">0.1</text><text class="a" x="406.4" y="186.69">0.3</text><text class="a" x="426.15" y="186.69">0.2</text><text class="a" x="445.82" y="186.69">0.0</text><text class="a" x="469.5" y="186.69">0.3</text><text class="a" x="488.83" y="186.69">0.1</text><text class="a" x="508.22" y="186.69">0.0</text><text class="a" x="532.02" y="186.69">0.2</text><text class="a" x="551.67" y="186.69">0.1</text><text class="a" x="571.33" y="186.69">0.0</text><text class="a" x="595.14" y="186.69">0.2</text><text class="a" x="614.42" y="186.69">0.1</text><text class="a" x="633.86" y="186.69">0.0</text></g>
<g><text class="a k" x="155.28" y="204.22">0.5</text><text class="a" x="174.97" y="204.22">0.4</text><text class="a" x="194.69" y="204.22">0.3</text><text class="a k" x="218.39" y="204.22">0.5</text><text class="a" x="237.67" y="204.22">0.4</text><text class="a" x="257.11" y="204.22">0.2</text><text class="a" x="280.93" y="204.22">0.4</text><text class="a" x="300.67" y="204.22">0.3</text><text class="a" x="320.29" y="204.22">0.2</text><text class="a" x="343.86" y="204.22">0.4</text><text class="a" x="363.22" y="204.22">0.3</text><text class="a" x="382.68" y="204.22">0.1</text><text class="a" x="406.4" y="204.22">0.3</text><text class="a" x="426.15" y="204.22">0.2</text><text class="a" x="445.82" y="204.22">0.0</text><text class="a" x="469.5" y="204.22">0.3</text><text class="a" x="488.83" y="204.22">0.1</text><text class="a" x="508.22" y="204.22">0.0</text><text class="a" x="532.02" y="204.22">0.2</text><text class="a" x="551.67" y="204.22">0.1</text><text class="a" x="571.33" y="204.22">0.0</text><text class="a" x="595.14" y="204.22">0.2</text><text class="a" x="614.42" y="204.22">0.1</text><text class="a" x="633.86" y="204.22">0.0</text></g>
<g><text class="a k" x="155.28" y="221.74">0.5</text><text class="a" x="174.97" y="221.74">0.4</text><text class="a" x="194.69" y="221.74">0.4</text><text class="a k" x="218.39" y="221.74">0.5</text><text class="a" x="237.67" y="221.74">0.4</text><text class="a" x="257.11" y="221.74">0.3</text><text class="a" x="280.93" y="221.74">0.4</text><text class="a" x="300.67" y="221.74">0.4</text><text class="a" x="320.29" y="221.74">0.2</text><text class="a" x="343.86" y="221.74">0.4</text><text class="a" x="363.22" y="221.74">0.3</text><text class="a" x="382.68" y="221.74">0.2</text><text class="a" x="406.4" y="221.74">0.3</text><text class="a" x="426.15" y="221.74">0.2</text><text class="a" x="445.82" y="221.74">0.1</text><text class="a" x="469.5" y="221.74">0.3</text><text class="a" x="488.83" y="221.74">0.2</text><text class="a" x="508.22" y="221.74">0.0</text><text class="a" x="532.02" y="221.74">0.2</text><text class="a" x="551.67" y="221.74">0.1</text><text class="a" x="571.33" y="221.74">0.0</text><text class="a" x="595.14" y="221.74">0.2</text><text class="a" x="614.42" y="221.74">0.1</text><text class="a" x="633.86" y="221.74">0.0</text></g>
<g><text class="a k" x="155.28" y="239.27">0.5</text><text class="a k" x="174.97" y="239.27">0.5</text><text class="a" x="194.69" y="239.27">0.4</text><text class="a k" x="218.39" y="239.27">0.5</text><text class="a k" x="237.67" y="239.27">0.5</text><text class="a" x="257.11" y="239.27">0.4</text><text class="a" x="280.93" y="239.27">0.4</text><text class="a" x="300.67" y="239.27">0.4</text><text class="a" x="320.29" y="239.27">0.4</text><text class="a" x="343.86" y="239.27">0.4</text><text class="a" x="363.22" y="239.27">0.4</text><text class="a" x="382.68" y="239.27">0.3</text><text class="a" x="406.4" y="239.27">0.3</text><text class="a" x="426.15" y="239.27">0.2</text><text class="a" x="445.82" y="239.27">0.1</text><text class="a" x="469.5" y="239.27">0.3</text><text class="a" x="488.83" y="239.27">0.2</text><text class="a" x="508.22" y="239.27">0.1</text><text class="a" x="532.02" y="239.27">0.2</text><text class="a" x="551.67" y="239.27">0.1</text><text class="a" x="571.33" y="239.27">0.0</text><text class="a" x="595.14" y="239.27">0.2</text><text class="a" x="614.42" y="239.27">0.1</text><text class="a" x="633.86" y="239.27">0.0</text></g>
<g><text class="a" x="155.28" y="260.83">0.4</text><text class="a" x="174.97" y="260.83">0.4</text><text class="a" x="194.69" y="260.83">0.2</text><text class="a" x="218.39" y="260.83">0.4</text><text class="a" x="237.67" y="260.83">0.4</text><text class="a" x="257.11" y="260.83">0.2</text><text class="a" x="280.93" y="260.83">0.3</text><text class="a" x="300.67" y="260.83">0.3</text><text class="a" x="320.29" y="260.83">0.1</text><text class="a" x="343.86" y="260.83">0.3</text><text class="a" x="363.22" y="260.83">0.3</text><text class="a" x="382.68" y="260.83">0.1</text><text class="a" x="406.4" y="260.83">0.3</text><text class="a" x="426.15" y="260.83">0.2</text><text class="a" x="445.82" y="260.83">0.0</text><text class="a" x="469.5" y="260.83">0.3</text><text class="a" x="488.83" y="260.83">0.1</text><text class="a" x="508.22" y="260.83">0.0</text><text class="a" x="532.02" y="260.83">0.2</text><text class="a" x="551.67" y="260.83">0.1</text><text class="a" x="571.33" y="260.83">0.0</text><text class="a" x="595.14" y="260.83">0.2</text><text class="a" x="614.42" y="260.83">0.1</text><text class="a" x="633.86" y="260.83">0.0</text></g>
<g><text class="a" x="155.28" y="278.36">0.4</text><text class="a" x="174.97" y="278.36">0.4</text><text class="a" x="194.69" y="278.36">0.3</text><text class="a" x="218.39" y="278.36">0.4</text><text class="a" x="237.67" y="278.36">0.4</text><text class="a" x="257.11" y="278.36">0.2</text><text class="a" x="280.93" y="278.36">0.3</text><text class="a" x="300.67" y="278.36">0.3</text><text class="a" x="320.29" y="278.36">0.1</text><text class="a" x="343.86" y="278.36">0.3</text><text class="a" x="363.22" y="278.36">0.3</text><text class="a" x="382.68" y="278.36">0.1</text><text class="a" x="406.4" y="278.36">0.3</text><text class="a" x="426.15" y="278.36">0.2</text><text class="a" x="445.82" y="278.36">0.1</text><text class="a" x="469.5" y="278.36">0.3</text><text class="a" x="488.83" y="278.36">0.1</text><text class="a" x="508.22" y="278.36">0.0</text><text class="a" x="532.02" y="278.36">0.2</text><text class="a" x="551.67" y="278.36">0.1</text><text class="a" x="571.33" y="278.36">0.0</text><text class="a" x="595.14" y="278.36">0.2</text><text class="a" x="614.42" y="278.36">0.1</text><text class="a" x="633.86" y="278.36">0.0</text></g>
<g><text class="a" x="155.28" y="295.88">0.4</text><text class="a" x="174.97" y="295.88">0.4</text><text class="a" x="194.69" y="295.88">0.3</text><text class="a" x="218.39" y="295.88">0.4</text><text class="a" x="237.67" y="295.88">0.4</text><text class="a" x="257.11" y="295.88">0.3</text><text class="a" x="280.93" y="295.88">0.3</text><text class="a" x="300.67" y="295.88">0.3</text><text class="a" x="320.29" y="295.88">0.2</text><text class="a" x="343.86" y="295.88">0.3</text><text class="a" x="363.22" y="295.88">0.3</text><text class="a" x="382.68" y="295.88">0.1</text><text class="a" x="406.4" y="295.88">0.3</text><text class="a" x="426.15" y="295.88">0.2</text><text class="a" x="445.82" y="295.88">0.1</text><text class="a" x="469.5" y="295.88">0.3</text><text class="a" x="488.83" y="295.88">0.2</text><text class="a" x="508.22" y="295.88">0.0</text><text class="a" x="532.02" y="295.88">0.2</text><text class="a" x="551.67" y="295.88">0.1</text><text class="a" x="571.33" y="295.88">0.0</text><text class="a" x="595.14" y="295.88">0.2</text><text class="a" x="614.42" y="295.88">0.1</text><text class="a" x="633.86" y="295.88">0.0</text></g>
<g><text class="a" x="155.28" y="313.41">0.4</text><text class="a" x="174.97" y="313.41">0.4</text><text class="a" x="194.69" y="313.41">0.4</text><text class="a" x="218.39" y="313.41">0.4</text><text class="a" x="237.67" y="313.41">0.4</text><text class="a" x="257.11" y="313.41">0.3</text><text class="a" x="280.93" y="313.41">0.3</text><text class="a" x="300.67" y="313.41">0.3</text><text class="a" x="320.29" y="313.41">0.2</text><text class="a" x="343.86" y="313.41">0.3</text><text class="a" x="363.22" y="313.41">0.3</text><text class="a" x="382.68" y="313.41">0.2</text><text class="a" x="406.4" y="313.41">0.3</text><text class="a" x="426.15" y="313.41">0.2</text><text class="a" x="445.82" y="313.41">0.1</text><text class="a" x="469.5" y="313.41">0.3</text><text class="a" x="488.83" y="313.41">0.2</text><text class="a" x="508.22" y="313.41">0.0</text><text class="a" x="532.02" y="313.41">0.2</text><text class="a" x="551.67" y="313.41">0.1</text><text class="a" x="571.33" y="313.41">0.0</text><text class="a" x="595.14" y="313.41">0.2</text><text class="a" x="614.42" y="313.41">0.1</text><text class="a" x="633.86" y="313.41">0.0</text></g>
<g><text class="a k" x="155.28" y="334.97">0.6</text><text class="a k" x="174.97" y="334.97">0.5</text><text class="a" x="194.69" y="334.97">0.4</text><text class="a k" x="218.39" y="334.97">0.6</text><text class="a k" x="237.67" y="334.97">0.5</text><text class="a" x="257.11" y="334.97">0.2</text><text class="a k" x="280.93" y="334.97">0.5</text><text class="a" x="300.67" y="334.97">0.4</text><text class="a" x="320.29" y="334.97">0.2</text><text class="a k" x="343.86" y="334.97">0.5</text><text class="a" x="363.22" y="334.97">0.4</text><text class="a" x="382.68" y="334.97">0.0</text><text class="a" x="406.4" y="334.97">0.3</text><text class="a" x="426.15" y="334.97">0.1</text><text class="a" x="445.82" y="334.97">0.0</text><text class="a" x="469.5" y="334.97">0.3</text><text class="a" x="488.83" y="334.97">0.1</text><text class="a" x="508.22" y="334.97">0.0</text><text class="a" x="532.02" y="334.97">0.2</text><text class="a" x="551.67" y="334.97">0.1</text><text class="a" x="571.33" y="334.97">0.0</text><text class="a" x="595.14" y="334.97">0.2</text><text class="a" x="614.42" y="334.97">0.1</text><text class="a" x="633.86" y="334.97">0.0</text></g>
<g><text class="a k" x="155.28" y="352.5">0.6</text><text class="a k" x="174.97" y="352.5">0.6</text><text class="a k" x="194.69" y="352.5">0.5</text><text class="a k" x="218.39" y="352.5">0.6</text><text class="a k" x="237.67" y="352.5">0.5</text><text class="a" x="257.11" y="352.5">0.3</text><text class="a k" x="280.93" y="352.5">0.5</text><text class="a k" x="300.67" y="352.5">0.5</text><text class="a" x="320.29" y="352.5">0.3</text><text class="a k" x="343.86" y="352.5">0.5</text><text class="a" x="363.22" y="352.5">0.4</text><text class="a" x="382.68" y="352.5">0.2</text><text class="a" x="406.4" y="352.5">0.3</text><text class="a" x="426.15" y="352.5">0.1</text><text class="a" x="445.82" y="352.5">0.0</text><text class="a" x="469.5" y="352.5">0.3</text><text class="a" x="488.83" y="352.5">0.1</text><text class="a" x="508.22" y="352.5">0.0</text><text class="a" x="532.02" y="352.5">0.2</text><text class="a" x="551.67" y="352.5">0.1</text><text class="a" x="571.33" y="352.5">0.0</text><text class="a" x="595.14" y="352.5">0.2</text><text class="a" x="614.42" y="352.5">0.1</text><text class="a" x="633.86" y="352.5">0.0</text></g>
<g><text class="a k" x="155.28" y="370.02">0.6</text><text class="a k" x="174.97" y="370.02">0.6</text><text class="a k" x="194.69" y="370.02">0.6</text><text class="a k" x="218.39" y="370.02">0.6</text><text class="a k" x="237.67" y="370.02">0.6</text><text class="a k" x="257.11" y="370.02">0.5</text><text class="a k" x="280.93" y="370.02">0.5</text><text class="a k" x="300.67" y="370.02">0.5</text><text class="a k" x="320.29" y="370.02">0.5</text><text class="a k" x="343.86" y="370.02">0.5</text><text class="a k" x="363.22" y="370.02">0.5</text><text class="a" x="382.68" y="370.02">0.3</text><text class="a" x="406.4" y="370.02">0.3</text><text class="a" x="426.15" y="370.02">0.2</text><text class="a" x="445.82" y="370.02">0.1</text><text class="a" x="469.5" y="370.02">0.3</text><text class="a" x="488.83" y="370.02">0.1</text><text class="a" x="508.22" y="370.02">0.0</text><text class="a" x="532.02" y="370.02">0.2</text><text class="a" x="551.67" y="370.02">0.1</text><text class="a" x="571.33" y="370.02">0.0</text><text class="a" x="595.14" y="370.02">0.2</text><text class="a" x="614.42" y="370.02">0.1</text><text class="a" x="633.86" y="370.02">0.0</text></g>
<g><text class="a k" x="155.28" y="387.55">0.6</text><text class="a k" x="174.97" y="387.55">0.6</text><text class="a k" x="194.69" y="387.55">0.6</text><text class="a k" x="218.39" y="387.55">0.6</text><text class="a k" x="237.67" y="387.55">0.6</text><text class="a k" x="257.11" y="387.55">0.6</text><text class="a k" x="280.93" y="387.55">0.5</text><text class="a k" x="300.67" y="387.55">0.5</text><text class="a k" x="320.29" y="387.55">0.5</text><text class="a k" x="343.86" y="387.55">0.5</text><text class="a k" x="363.22" y="387.55">0.5</text><text class="a k" x="382.68" y="387.55">0.5</text><text class="a" x="406.4" y="387.55">0.4</text><text class="a" x="426.15" y="387.55">0.3</text><text class="a" x="445.82" y="387.55">0.1</text><text class="a" x="469.5" y="387.55">0.4</text><text class="a" x="488.83" y="387.55">0.2</text><text class="a" x="508.22" y="387.55">0.1</text><text class="a" x="532.02" y="387.55">0.3</text><text class="a" x="551.67" y="387.55">0.2</text><text class="a" x="571.33" y="387.55">0.1</text><text class="a" x="595.14" y="387.55">0.3</text><text class="a" x="614.42" y="387.55">0.1</text><text class="a" x="633.86" y="387.55">0.1</text></g>
<g><text class="a k" x="155.28" y="409.11">0.5</text><text class="a k" x="174.97" y="409.11">0.5</text><text class="a" x="194.69" y="409.11">0.4</text><text class="a k" x="218.39" y="409.11">0.5</text><text class="a k" x="237.67" y="409.11">0.5</text><text class="a" x="257.11" y="409.11">0.2</text><text class="a" x="280.93" y="409.11">0.4</text><text class="a" x="300.67" y="409.11">0.3</text><text class="a" x="320.29" y="409.11">0.1</text><text class="a" x="343.86" y="409.11">0.4</text><text class="a" x="363.22" y="409.11">0.3</text><text class="a" x="382.68" y="409.11">0.0</text><text class="a" x="406.4" y="409.11">0.3</text><text class="a" x="426.15" y="409.11">0.1</text><text class="a" x="445.82" y="409.11">0.0</text><text class="a" x="469.5" y="409.11">0.3</text><text class="a" x="488.83" y="409.11">0.1</text><text class="a" x="508.22" y="409.11">0.0</text><text class="a" x="532.02" y="409.11">0.2</text><text class="a" x="551.67" y="409.11">0.1</text><text class="a" x="571.33" y="409.11">0.0</text><text class="a" x="595.14" y="409.11">0.2</text><text class="a" x="614.42" y="409.11">0.1</text><text class="a" x="633.86" y="409.11">0.0</text></g>
<g><text class="a k" x="155.28" y="426.64">0.6</text><text class="a k" x="174.97" y="426.64">0.5</text><text class="a" x="194.69" y="426.64">0.4</text><text class="a k" x="218.39" y="426.64">0.5</text><text class="a k" x="237.67" y="426.64">0.5</text><text class="a" x="257.11" y="426.64">0.3</text><text class="a" x="280.93" y="426.64">0.4</text><text class="a" x="300.67" y="426.64">0.4</text><text class="a" x="320.29" y="426.64">0.2</text><text class="a" x="343.86" y="426.64">0.4</text><text class="a" x="363.22" y="426.64">0.3</text><text class="a" x="382.68" y="426.64">0.1</text><text class="a" x="406.4" y="426.64">0.3</text><text class="a" x="426.15" y="426.64">0.1</text><text class="a" x="445.82" y="426.64">0.0</text><text class="a" x="469.5" y="426.64">0.3</text><text class="a" x="488.83" y="426.64">0.1</text><text class="a" x="508.22" y="426.64">0.0</text><text class="a" x="532.02" y="426.64">0.2</text><text class="a" x="551.67" y="426.64">0.1</text><text class="a" x="571.33" y="426.64">0.0</text><text class="a" x="595.14" y="426.64">0.2</text><text class="a" x="614.42" y="426.64">0.1</text><text class="a" x="633.86" y="426.64">0.0</text></g>
<g><text class="a k" x="155.28" y="444.16">0.6</text><text class="a k" x="174.97" y="444.16">0.5</text><text class="a k" x="194.69" y="444.16">0.5</text><text class="a k" x="218.39" y="444.16">0.6</text><text class="a k" x="237.67" y="444.16">0.5</text><text class="a" x="257.11" y="444.16">0.4</text><text class="a" x="280.93" y="444.16">0.4</text><text class="a" x="300.67" y="444.16">0.4</text><text class="a" x="320.29" y="444.16">0.4</text><text class="a" x="343.86" y="444.16">0.4</text><text class="a" x="363.22" y="444.16">0.4</text><text class="a" x="382.68" y="444.16">0.2</text><text class="a" x="406.4" y="444.16">0.3</text><text class="a" x="426.15" y="444.16">0.2</text><text class="a" x="445.82" y="444.16">0.1</text><text class="a" x="469.5" y="444.16">0.3</text><text class="a" x="488.83" y="444.16">0.1</text><text class="a" x="508.22" y="444.16">0.0</text><text class="a" x="532.02" y="444.16">0.2</text><text class="a" x="551.67" y="444.16">0.1</text><text class="a" x="571.33" y="444.16">0.0</text><text class="a" x="595.14" y="444.16">0.2</text><text class="a" x="614.42" y="444.16">0.1</text><text class="a" x="633.86" y="444.16">0.0</text></g>
<g><text class="a k" x="155.28" y="461.69">0.6</text><text class="a k" x="174.97" y="461.69">0.6</text><text class="a k" x="194.69" y="461.69">0.6</text><text class="a k" x="218.39" y="461.69">0.6</text><text class="a k" x="237.67" y="461.69">0.5</text><text class="a k" x="257.11" y="461.69">0.5</text><text class="a k" x="280.93" y="461.69">0.5</text><text class="a" x="300.67" y="461.69">0.5</text><text class="a" x="320.29" y="461.69">0.4</text><text class="a k" x="343.86" y="461.69">0.5</text><text class="a" x="363.22" y="461.69">0.4</text><text class="a" x="382.68" y="461.69">0.3</text><text class="a" x="406.4" y="461.69">0.3</text><text class="a" x="426.15" y="461.69">0.2</text><text class="a" x="445.82" y="461.69">0.1</text><text class="a" x="469.5" y="461.69">0.3</text><text class="a" x="488.83" y="461.69">0.1</text><text class="a" x="508.22" y="461.69">0.0</text><text class="a" x="532.02" y="461.69">0.2</text><text class="a" x="551.67" y="461.69">0.1</text><text class="a" x="571.33" y="461.69">0.0</text><text class="a" x="595.14" y="461.69">0.2</text><text class="a" x="614.42" y="461.69">0.1</text><text class="a" x="633.86" y="461.69">0.0</text></g>
<g><text class="a k" x="155.28" y="483.25">0.6</text><text class="a k" x="174.97" y="483.25">0.5</text><text class="a" x="194.69" y="483.25">0.2</text><text class="a k" x="218.39" y="483.25">0.6</text><text class="a k" x="237.67" y="483.25">0.5</text><text class="a" x="257.11" y="483.25">0.1</text><text class="a k" x="280.93" y="483.25">0.5</text><text class="a" x="300.67" y="483.25">0.4</text><text class="a" x="320.29" y="483.25">0.0</text><text class="a k" x="343.86" y="483.25">0.5</text><text class="a" x="363.22" y="483.25">0.4</text><text class="a" x="382.68" y="483.25">0.0</text><text class="a" x="406.4" y="483.25">0.3</text><text class="a" x="426.15" y="483.25">0.2</text><text class="a" x="445.82" y="483.25">0.0</text><text class="a" x="469.5" y="483.25">0.3</text><text class="a" x="488.83" y="483.25">0.1</text><text class="a" x="508.22" y="483.25">0.0</text><text class="a" x="532.02" y="483.25">0.3</text><text class="a" x="551.67" y="483.25">0.1</text><text class="a" x="571.33" y="483.25">0.0</text><text class="a" x="595.14" y="483.25">0.2</text><text class="a" x="614.42" y="483.25">0.1</text><text class="a" x="633.86" y="483.25">0.0</text></g>
<g><text class="a k" x="155.28" y="500.78">0.6</text><text class="a k" x="174.97" y="500.78">0.5</text><text class="a" x="194.69" y="500.78">0.4</text><text class="a k" x="218.39" y="500.78">0.6</text><text class="a k" x="237.67" y="500.78">0.5</text><text class="a" x="257.11" y="500.78">0.3</text><text class="a k" x="280.93" y="500.78">0.5</text><text class="a k" x="300.67" y="500.78">0.5</text><text class="a" x="320.29" y="500.78">0.3</text><text class="a k" x="343.86" y="500.78">0.5</text><text class="a" x="363.22" y="500.78">0.4</text><text class="a" x="382.68" y="500.78">0.1</text><text class="a" x="406.4" y="500.78">0.3</text><text class="a" x="426.15" y="500.78">0.2</text><text class="a" x="445.82" y="500.78">0.0</text><text class="a" x="469.5" y="500.78">0.3</text><text class="a" x="488.83" y="500.78">0.2</text><text class="a" x="508.22" y="500.78">0.0</text><text class="a" x="532.02" y="500.78">0.3</text><text class="a" x="551.67" y="500.78">0.1</text><text class="a" x="571.33" y="500.78">0.0</text><text class="a" x="595.14" y="500.78">0.2</text><text class="a" x="614.42" y="500.78">0.1</text><text class="a" x="633.86" y="500.78">0.0</text></g>
<g><text class="a k" x="155.28" y="518.3">0.6</text><text class="a k" x="174.97" y="518.3">0.6</text><text class="a k" x="194.69" y="518.3">0.6</text><text class="a k" x="218.39" y="518.3">0.6</text><text class="a k" x="237.67" y="518.3">0.6</text><text class="a" x="257.11" y="518.3">0.4</text><text class="a k" x="280.93" y="518.3">0.5</text><text class="a k" x="300.67" y="518.3">0.5</text><text class="a k" x="320.29" y="518.3">0.5</text><text class="a k" x="343.86" y="518.3">0.5</text><text class="a k" x="363.22" y="518.3">0.5</text><text class="a" x="382.68" y="518.3">0.3</text><text class="a" x="406.4" y="518.3">0.4</text><text class="a" x="426.15" y="518.3">0.2</text><text class="a" x="445.82" y="518.3">0.1</text><text class="a" x="469.5" y="518.3">0.3</text><text class="a" x="488.83" y="518.3">0.2</text><text class="a" x="508.22" y="518.3">0.0</text><text class="a" x="532.02" y="518.3">0.3</text><text class="a" x="551.67" y="518.3">0.1</text><text class="a" x="571.33" y="518.3">0.0</text><text class="a" x="595.14" y="518.3">0.3</text><text class="a" x="614.42" y="518.3">0.1</text><text class="a" x="633.86" y="518.3">0.0</text></g>
<g><text class="a k" x="155.28" y="535.83">0.6</text><text class="a k" x="174.97" y="535.83">0.6</text><text class="a k" x="194.69" y="535.83">0.6</text><text class="a k" x="218.39" y="535.83">0.6</text><text class="a k" x="237.67" y="535.83">0.6</text><text class="a k" x="257.11" y="535.83">0.6</text><text class="a k" x="280.93" y="535.83">0.5</text><text class="a k" x="300.67" y="535.83">0.5</text><text class="a k" x="320.29" y="535.83">0.5</text><text class="a k" x="343.86" y="535.83">0.5</text><text class="a k" x="363.22" y="535.83">0.5</text><text class="a k" x="382.68" y="535.83">0.5</text><text class="a" x="406.4" y="535.83">0.4</text><text class="a" x="426.15" y="535.83">0.3</text><text class="a" x="445.82" y="535.83">0.2</text><text class="a" x="469.5" y="535.83">0.4</text><text class="a" x="488.83" y="535.83">0.2</text><text class="a" x="508.22" y="535.83">0.1</text><text class="a" x="532.02" y="535.83">0.3</text><text class="a" x="551.67" y="535.83">0.2</text><text class="a" x="571.33" y="535.83">0.1</text><text class="a" x="595.14" y="535.83">0.3</text><text class="a" x="614.42" y="535.83">0.2</text><text class="a" x="633.86" y="535.83">0.1</text></g>
<g><text class="a k" x="155.28" y="557.39">0.5</text><text class="a k" x="174.97" y="557.39">0.5</text><text class="a" x="194.69" y="557.39">0.2</text><text class="a k" x="218.39" y="557.39">0.5</text><text class="a" x="237.67" y="557.39">0.4</text><text class="a" x="257.11" y="557.39">0.1</text><text class="a" x="280.93" y="557.39">0.4</text><text class="a" x="300.67" y="557.39">0.3</text><text class="a" x="320.29" y="557.39">0.0</text><text class="a" x="343.86" y="557.39">0.4</text><text class="a" x="363.22" y="557.39">0.3</text><text class="a" x="382.68" y="557.39">0.0</text><text class="a" x="406.4" y="557.39">0.3</text><text class="a" x="426.15" y="557.39">0.2</text><text class="a" x="445.82" y="557.39">0.0</text><text class="a" x="469.5" y="557.39">0.3</text><text class="a" x="488.83" y="557.39">0.1</text><text class="a" x="508.22" y="557.39">0.0</text><text class="a" x="532.02" y="557.39">0.2</text><text class="a" x="551.67" y="557.39">0.1</text><text class="a" x="571.33" y="557.39">0.0</text><text class="a" x="595.14" y="557.39">0.2</text><text class="a" x="614.42" y="557.39">0.1</text><text class="a" x="633.86" y="557.39">0.0</text></g>
<g><text class="a k" x="155.28" y="574.92">0.5</text><text class="a k" x="174.97" y="574.92">0.5</text><text class="a" x="194.69" y="574.92">0.4</text><text class="a k" x="218.39" y="574.92">0.5</text><text class="a k" x="237.67" y="574.92">0.5</text><text class="a" x="257.11" y="574.92">0.2</text><text class="a" x="280.93" y="574.92">0.4</text><text class="a" x="300.67" y="574.92">0.4</text><text class="a" x="320.29" y="574.92">0.2</text><text class="a" x="343.86" y="574.92">0.4</text><text class="a" x="363.22" y="574.92">0.3</text><text class="a" x="382.68" y="574.92">0.1</text><text class="a" x="406.4" y="574.92">0.3</text><text class="a" x="426.15" y="574.92">0.2</text><text class="a" x="445.82" y="574.92">0.0</text><text class="a" x="469.5" y="574.92">0.3</text><text class="a" x="488.83" y="574.92">0.1</text><text class="a" x="508.22" y="574.92">0.0</text><text class="a" x="532.02" y="574.92">0.2</text><text class="a" x="551.67" y="574.92">0.1</text><text class="a" x="571.33" y="574.92">0.0</text><text class="a" x="595.14" y="574.92">0.2</text><text class="a" x="614.42" y="574.92">0.1</text><text class="a" x="633.86" y="574.92">0.0</text></g>
<g><text class="a k" x="155.28" y="592.44">0.6</text><text class="a k" x="174.97" y="592.44">0.5</text><text class="a k" x="194.69" y="592.44">0.5</text><text class="a k" x="218.39" y="592.44">0.6</text><text class="a k" x="237.67" y="592.44">0.5</text><text class="a" x="257.11" y="592.44">0.4</text><text class="a" x="280.93" y="592.44">0.4</text><text class="a" x="300.67" y="592.44">0.4</text><text class="a" x="320.29" y="592.44">0.3</text><text class="a" x="343.86" y="592.44">0.4</text><text class="a" x="363.22" y="592.44">0.4</text><text class="a" x="382.68" y="592.44">0.2</text><text class="a" x="406.4" y="592.44">0.3</text><text class="a" x="426.15" y="592.44">0.2</text><text class="a" x="445.82" y="592.44">0.1</text><text class="a" x="469.5" y="592.44">0.3</text><text class="a" x="488.83" y="592.44">0.2</text><text class="a" x="508.22" y="592.44">0.0</text><text class="a" x="532.02" y="592.44">0.2</text><text class="a" x="551.67" y="592.44">0.1</text><text class="a" x="571.33" y="592.44">0.0</text><text class="a" x="595.14" y="592.44">0.2</text><text class="a" x="614.42" y="592.44">0.1</text><text class="a" x="633.86" y="592.44">0.0</text></g>
<g><text class="a k" x="155.28" y="609.97">0.6</text><text class="a k" x="174.97" y="609.97">0.6</text><text class="a k" x="194.69" y="609.97">0.6</text><text class="a k" x="218.39" y="609.97">0.6</text><text class="a k" x="237.67" y="609.97">0.5</text><text class="a k" x="257.11" y="609.97">0.5</text><text class="a k" x="280.93" y="609.97">0.5</text><text class="a" x="300.67" y="609.97">0.5</text><text class="a" x="320.29" y="609.97">0.4</text><text class="a k" x="343.86" y="609.97">0.5</text><text class="a" x="363.22" y="609.97">0.4</text><text class="a" x="382.68" y="609.97">0.3</text><text class="a" x="406.4" y="609.97">0.4</text><text class="a" x="426.15" y="609.97">0.2</text><text class="a" x="445.82" y="609.97">0.1</text><text class="a" x="469.5" y="609.97">0.4</text><text class="a" x="488.83" y="609.97">0.2</text><text class="a" x="508.22" y="609.97">0.1</text><text class="a" x="532.02" y="609.97">0.3</text><text class="a" x="551.67" y="609.97">0.1</text><text class="a" x="571.33" y="609.97">0.1</text><text class="a" x="595.14" y="609.97">0.2</text><text class="a" x="614.42" y="609.97">0.1</text><text class="a" x="633.86" y="609.97">0.0</text></g>
</g>
<g id="app-usage">
<rect class="bx" x="130.85" y="1.25" width="17.72" height="17.4"/><text class="s" transform="translate(139.71 12.55) scale(0.93 1)">0.4</text><rect class="bx" x="148.57" y="1.25" width="17.72" height="17.4"/><text class="s" transform="translate(157.43 12.55) scale(0.93 1)">0.6</text><rect class="bx" x="166.29" y="1.25" width="17.71" height="17.4"/><text class="s" transform="translate(175.14 12.55) scale(0.93 1)">0.9</text>
<text class="b" transform="translate(187.4 14) scale(1.02 1)" style="text-anchor:start">App Usage Probability</text>
</g>
<g id="incubation">
<rect class="bx" x="15.75" y="27.45" width="18.2" height="292.89"/><text class="vs" transform="translate(27.55 173.89) rotate(-90) scale(1 0.9)">2.44</text><rect class="bx" x="15.75" y="324.09" width="18.2" height="292.89"/><text class="vs" transform="translate(27.55 470.53) rotate(-90) scale(1 0.9)">1.30</text>
<text class="vb" transform="translate(11 322.1) rotate(-90) scale(1.01 0.94)">Incubation distribution: Beta parameter</text>
</g>
<g id="test-positive">
<rect class="bx" x="60.15" y="27.45" width="18" height="144.57"/><text class="vs" transform="translate(71.85 99.73) rotate(-90) scale(1 0.9)">0.0</text><rect class="bx" x="60.15" y="175.77" width="18" height="144.57"/><text class="vs" transform="translate(71.85 248.05) rotate(-90) scale(1 0.9)">0.9</text><rect class="bx" x="60.15" y="324.09" width="18" height="144.57"/><text class="vs" transform="translate(71.85 396.38) rotate(-90) scale(1 0.9)">0.0</text><rect class="bx" x="60.15" y="472.41" width="18" height="144.57"/><text class="vs" transform="translate(71.85 544.69) rotate(-90) scale(1 0.9)">0.9</text>
<text class="vb" transform="translate(55.4 320.75) rotate(-90) scale(1.03 0.94)">Test Positive Probability</text>
</g>
<g id="infection">
<rect class="bx" x="104.55" y="27.45" width="17.85" height="70.41"/><text class="vs" transform="translate(116.17 62.66) rotate(-90) scale(1 0.9)">1.56</text><rect class="bx" x="104.55" y="101.61" width="17.85" height="70.41"/><text class="vs" transform="translate(116.17 136.81) rotate(-90) scale(1 0.9)">1.40</text><rect class="bx" x="104.55" y="175.77" width="17.85" height="70.41"/><text class="vs" transform="translate(116.17 210.97) rotate(-90) scale(1 0.9)">1.56</text><rect class="bx" x="104.55" y="249.93" width="17.85" height="70.41"/><text class="vs" transform="translate(116.17 285.13) rotate(-90) scale(1 0.9)">1.40</text><rect class="bx" x="104.55" y="324.09" width="17.85" height="70.41"/><text class="vs" transform="translate(116.17 359.29) rotate(-90) scale(1 0.9)">1.56</text><rect class="bx" x="104.55" y="398.25" width="17.85" height="70.41"/><text class="vs" transform="translate(116.17 433.45) rotate(-90) scale(1 0.9)">1.40</text><rect class="bx" x="104.55" y="472.41" width="17.85" height="70.41"/><text class="vs" transform="translate(116.17 507.61) rotate(-90) scale(1 0.9)">1.56</text><rect class="bx" x="104.55" y="546.57" width="17.85" height="70.41"/><text class="vs" transform="translate(116.17 581.78) rotate(-90) scale(1 0.9)">1.40</text>
<text class="vb" transform="translate(99.6 322.1) rotate(-90) scale(1.01 0.94)">Infection distribution: Beta parameter</text>
</g>
<g id="tracing-delay">
<rect class="bx" x="588.7" y="27.7" width="17.35" height="17.25"/><text class="vs" transform="translate(600.1 36.33) rotate(-90) scale(1 0.9)">0</text><rect class="bx" x="588.7" y="44.95" width="17.35" height="17.85"/><text class="vs" transform="translate(600.1 53.88) rotate(-90) scale(1 0.9)">2</text><rect class="bx" x="588.7" y="62.8" width="17.35" height="17.8"/><text class="vs" transform="translate(600.1 71.7) rotate(-90) scale(1 0.9)">4</text><rect class="bx" x="588.7" y="80.6" width="17.35" height="17.5"/><text class="vs" transform="translate(600.1 89.35) rotate(-90) scale(1 0.9)">6</text>
<text class="vb" transform="translate(601.9 150.45) rotate(-90) scale(1.05 1)">Tracing Delay</text>
</g>
<g id="colorbar">
<defs><linearGradient id="pl" x1="0" y1="1" x2="0" y2="0"><stop offset="0" stop-color="#0d0887"/><stop offset="0.03" stop-color="#220690"/><stop offset="0.06" stop-color="#310597"/><stop offset="0.09" stop-color="#3f049c"/><stop offset="0.12" stop-color="#4c02a1"/><stop offset="0.16" stop-color="#5901a5"/><stop offset="0.19" stop-color="#6600a7"/><stop offset="0.22" stop-color="#7201a8"/><stop offset="0.25" stop-color="#7e03a8"/><stop offset="0.28" stop-color="#8a09a5"/><stop offset="0.31" stop-color="#9511a1"/><stop offset="0.34" stop-color="#a01a9c"/><stop offset="0.38" stop-color="#aa2395"/><stop offset="0.41" stop-color="#b32c8e"/><stop offset="0.44" stop-color="#bc3587"/><stop offset="0.47" stop-color="#c43e7f"/><stop offset="0.5" stop-color="#cc4778"/><stop offset="0.53" stop-color="#d35171"/><stop offset="0.56" stop-color="#da5a6a"/><stop offset="0.59" stop-color="#e06363"/><stop offset="0.62" stop-color="#e66c5c"/><stop offset="0.66" stop-color="#eb7655"/><stop offset="0.69" stop-color="#f0804e"/><stop offset="0.72" stop-color="#f58b47"/><stop offset="0.75" stop-color="#f89540"/><stop offset="0.78" stop-color="#fba139"/><stop offset="0.81" stop-color="#fdac33"/><stop offset="0.84" stop-color="#feb82c"/><stop offset="0.88" stop-color="#fdc527"/><stop offset="0.91" stop-color="#fcd225"/><stop offset="0.94" stop-color="#f8df25"/><stop offset="0.97" stop-color="#f4ed27"/><stop offset="1" stop-color="#f0f921"/></linearGradient></defs>
<rect x="614.65" y="27.75" width="18" height="589.6" fill="url(#pl)" stroke="#000" stroke-width="1.4"/>
<line x1="633" y1="525.45" x2="639.8" y2="525.45" stroke="#000" stroke-width="1.45"/><text class="t" transform="translate(643.9 530.75) scale(0.97 1)">0.1</text><line x1="633" y1="427.52" x2="639.8" y2="427.52" stroke="#000" stroke-width="1.45"/><text class="t" transform="translate(643.9 432.82) scale(0.97 1)">0.2</text><line x1="633" y1="329.59" x2="639.8" y2="329.59" stroke="#000" stroke-width="1.45"/><text class="t" transform="translate(643.9 334.89) scale(0.97 1)">0.3</text><line x1="633" y1="231.66" x2="639.8" y2="231.66" stroke="#000" stroke-width="1.45"/><text class="t" transform="translate(643.9 236.96) scale(0.97 1)">0.4</text><line x1="633" y1="133.73" x2="639.8" y2="133.73" stroke="#000" stroke-width="1.45"/><text class="t" transform="translate(643.9 139.03) scale(0.97 1)">0.5</text><line x1="633" y1="35.8" x2="639.8" y2="35.8" stroke="#000" stroke-width="1.45"/><text class="t" transform="translate(643.9 41.1) scale(0.97 1)">0.6</text>
<text class="vb" transform="translate(681.9 322.3) rotate(-90) scale(1.02 0.97)">Average of most infected people in one day</text>
</g>
<g id="tracing-order">
<rect class="bx" x="130.95" y="625.9" width="53.17" height="17.5"/><text class="s" transform="translate(157.53 637.45) scale(0.93 1)">1</text><rect class="bx" x="187.47" y="625.9" width="53.17" height="17.5"/><text class="s" transform="translate(214.06 637.45) scale(0.93 1)">2</text><rect class="bx" x="243.99" y="625.9" width="53.17" height="17.5"/><text class="s" transform="translate(270.57 637.45) scale(0.93 1)">1</text><rect class="bx" x="300.51" y="625.9" width="53.17" height="17.5"/><text class="s" transform="translate(327.09 637.45) scale(0.93 1)">2</text><rect class="bx" x="357.03" y="625.9" width="53.17" height="17.5"/><text class="s" transform="translate(383.61 637.45) scale(0.93 1)">1</text><rect class="bx" x="413.55" y="625.9" width="53.17" height="17.5"/><text class="s" transform="translate(440.13 637.45) scale(0.93 1)">2</text><rect class="bx" x="470.07" y="625.9" width="53.17" height="17.5"/><text class="s" transform="translate(496.65 637.45) scale(0.93 1)">1</text><rect class="bx" x="526.59" y="625.9" width="53.17" height="17.5"/><text class="s" transform="translate(553.17 637.45) scale(0.93 1)">2</text>
<text class="b" transform="translate(357.6 656.5) scale(1.02 1)">Tracing Order</text>
</g>
<g id="symptom-probability">
<rect class="bx" x="130.95" y="670.2" width="109.69" height="17.3"/><text class="s" transform="translate(185.8 681.65) scale(0.93 1)">0.4</text><rect class="bx" x="243.99" y="670.2" width="109.69" height="17.3"/><text class="s" transform="translate(298.84 681.65) scale(0.93 1)">0.6</text><rect class="bx" x="357.03" y="670.2" width="109.69" height="17.3"/><text class="s" transform="translate(411.88 681.65) scale(0.93 1)">0.4</text><rect class="bx" x="470.07" y="670.2" width="109.69" height="17.3"/><text class="s" transform="translate(524.91 681.65) scale(0.93 1)">0.6</text>
<text class="b" transform="translate(356 700.8) scale(1.01 1)">Symptom Probability</text>
</g>
<g id="trace-uninfected">
<rect class="bx" x="130.95" y="714.2" width="222.73" height="17.7"/><text class="s" transform="translate(242.31 725.85) scale(0.93 1)">0</text><rect class="bx" x="357.03" y="714.2" width="222.73" height="17.7"/><text class="s" transform="translate(468.39 725.85) scale(0.93 1)">1</text>
<text class="b" transform="translate(356.2 744.9) scale(1.03 1)">Trace Uninfected</text>
</g>
</svg>
</body>
</html>
